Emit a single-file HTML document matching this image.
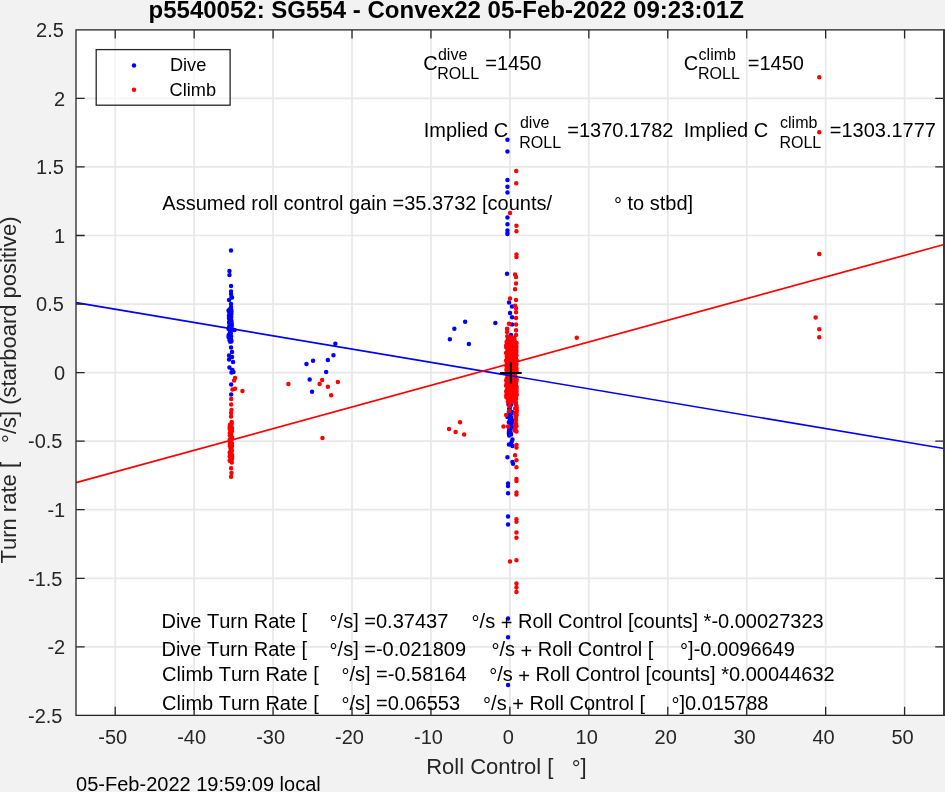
<!DOCTYPE html><html><head><meta charset="utf-8"><style>html,body{margin:0;padding:0;width:945px;height:792px;overflow:hidden;background:#f2f2f2}text{font-kerning:none} svg{will-change:transform}</style></head><body><svg width="945" height="792" viewBox="0 0 945 792" style="position:absolute;left:0;top:0">
<rect x="0" y="0" width="945" height="792" fill="#f2f2f2"/>
<rect x="76.00" y="29.80" width="868.00" height="685.60" fill="#ffffff"/>
<path d="M115.20 29.80V715.40M194.14 29.80V715.40M273.08 29.80V715.40M352.02 29.80V715.40M430.96 29.80V715.40M509.90 29.80V715.40M588.84 29.80V715.40M667.78 29.80V715.40M746.72 29.80V715.40M825.66 29.80V715.40M904.60 29.80V715.40M76.00 715.40H944.00M76.00 646.84H944.00M76.00 578.28H944.00M76.00 509.72H944.00M76.00 441.16H944.00M76.00 372.60H944.00M76.00 304.04H944.00M76.00 235.48H944.00M76.00 166.92H944.00M76.00 98.36H944.00M76.00 29.80H944.00" stroke="#e8e8e8" stroke-width="1.7" fill="none"/>
<path d="M228.8 250.6a2.25 2.25 0 1 0 4.5 0a2.25 2.25 0 1 0 -4.5 0M227.2 271.0a2.25 2.25 0 1 0 4.5 0a2.25 2.25 0 1 0 -4.5 0M227.2 275.0a2.25 2.25 0 1 0 4.5 0a2.25 2.25 0 1 0 -4.5 0M228.8 286.0a2.25 2.25 0 1 0 4.5 0a2.25 2.25 0 1 0 -4.5 0M228.8 291.5a2.25 2.25 0 1 0 4.5 0a2.25 2.25 0 1 0 -4.5 0M228.8 294.0a2.25 2.25 0 1 0 4.5 0a2.25 2.25 0 1 0 -4.5 0M229.2 297.0a2.25 2.25 0 1 0 4.5 0a2.25 2.25 0 1 0 -4.5 0M226.8 300.0a2.25 2.25 0 1 0 4.5 0a2.25 2.25 0 1 0 -4.5 0M229.8 297.5a2.25 2.25 0 1 0 4.5 0a2.25 2.25 0 1 0 -4.5 0M228.8 304.0a2.25 2.25 0 1 0 4.5 0a2.25 2.25 0 1 0 -4.5 0M228.8 307.0a2.25 2.25 0 1 0 4.5 0a2.25 2.25 0 1 0 -4.5 0M232.2 330.0a2.25 2.25 0 1 0 4.5 0a2.25 2.25 0 1 0 -4.5 0M228.8 347.5a2.25 2.25 0 1 0 4.5 0a2.25 2.25 0 1 0 -4.5 0M229.8 352.0a2.25 2.25 0 1 0 4.5 0a2.25 2.25 0 1 0 -4.5 0M226.8 355.5a2.25 2.25 0 1 0 4.5 0a2.25 2.25 0 1 0 -4.5 0M229.8 357.0a2.25 2.25 0 1 0 4.5 0a2.25 2.25 0 1 0 -4.5 0M226.8 359.5a2.25 2.25 0 1 0 4.5 0a2.25 2.25 0 1 0 -4.5 0M230.8 362.0a2.25 2.25 0 1 0 4.5 0a2.25 2.25 0 1 0 -4.5 0M227.2 367.5a2.25 2.25 0 1 0 4.5 0a2.25 2.25 0 1 0 -4.5 0M230.2 370.0a2.25 2.25 0 1 0 4.5 0a2.25 2.25 0 1 0 -4.5 0M229.2 372.5a2.25 2.25 0 1 0 4.5 0a2.25 2.25 0 1 0 -4.5 0M231.2 372.0a2.25 2.25 0 1 0 4.5 0a2.25 2.25 0 1 0 -4.5 0M228.9 384.6a2.25 2.25 0 1 0 4.5 0a2.25 2.25 0 1 0 -4.5 0M228.9 394.4a2.25 2.25 0 1 0 4.5 0a2.25 2.25 0 1 0 -4.5 0M227.0 326.6a2.25 2.25 0 1 0 4.5 0a2.25 2.25 0 1 0 -4.5 0M227.5 328.6a2.25 2.25 0 1 0 4.5 0a2.25 2.25 0 1 0 -4.5 0M228.3 310.7a2.25 2.25 0 1 0 4.5 0a2.25 2.25 0 1 0 -4.5 0M226.3 336.3a2.25 2.25 0 1 0 4.5 0a2.25 2.25 0 1 0 -4.5 0M227.1 316.3a2.25 2.25 0 1 0 4.5 0a2.25 2.25 0 1 0 -4.5 0M229.5 324.1a2.25 2.25 0 1 0 4.5 0a2.25 2.25 0 1 0 -4.5 0M229.0 324.3a2.25 2.25 0 1 0 4.5 0a2.25 2.25 0 1 0 -4.5 0M228.4 313.5a2.25 2.25 0 1 0 4.5 0a2.25 2.25 0 1 0 -4.5 0M228.3 337.3a2.25 2.25 0 1 0 4.5 0a2.25 2.25 0 1 0 -4.5 0M228.0 333.1a2.25 2.25 0 1 0 4.5 0a2.25 2.25 0 1 0 -4.5 0M228.5 310.6a2.25 2.25 0 1 0 4.5 0a2.25 2.25 0 1 0 -4.5 0M228.8 328.1a2.25 2.25 0 1 0 4.5 0a2.25 2.25 0 1 0 -4.5 0M227.2 309.5a2.25 2.25 0 1 0 4.5 0a2.25 2.25 0 1 0 -4.5 0M229.1 324.2a2.25 2.25 0 1 0 4.5 0a2.25 2.25 0 1 0 -4.5 0M228.6 337.7a2.25 2.25 0 1 0 4.5 0a2.25 2.25 0 1 0 -4.5 0M228.6 339.1a2.25 2.25 0 1 0 4.5 0a2.25 2.25 0 1 0 -4.5 0M227.6 335.1a2.25 2.25 0 1 0 4.5 0a2.25 2.25 0 1 0 -4.5 0M227.7 339.6a2.25 2.25 0 1 0 4.5 0a2.25 2.25 0 1 0 -4.5 0M229.2 311.7a2.25 2.25 0 1 0 4.5 0a2.25 2.25 0 1 0 -4.5 0M226.7 315.7a2.25 2.25 0 1 0 4.5 0a2.25 2.25 0 1 0 -4.5 0M229.4 323.0a2.25 2.25 0 1 0 4.5 0a2.25 2.25 0 1 0 -4.5 0M228.3 318.5a2.25 2.25 0 1 0 4.5 0a2.25 2.25 0 1 0 -4.5 0M227.9 321.3a2.25 2.25 0 1 0 4.5 0a2.25 2.25 0 1 0 -4.5 0M227.4 327.9a2.25 2.25 0 1 0 4.5 0a2.25 2.25 0 1 0 -4.5 0M228.2 338.5a2.25 2.25 0 1 0 4.5 0a2.25 2.25 0 1 0 -4.5 0M228.5 339.3a2.25 2.25 0 1 0 4.5 0a2.25 2.25 0 1 0 -4.5 0M229.1 341.4a2.25 2.25 0 1 0 4.5 0a2.25 2.25 0 1 0 -4.5 0M228.5 313.9a2.25 2.25 0 1 0 4.5 0a2.25 2.25 0 1 0 -4.5 0M229.1 340.5a2.25 2.25 0 1 0 4.5 0a2.25 2.25 0 1 0 -4.5 0M229.2 327.4a2.25 2.25 0 1 0 4.5 0a2.25 2.25 0 1 0 -4.5 0M228.6 315.5a2.25 2.25 0 1 0 4.5 0a2.25 2.25 0 1 0 -4.5 0M229.0 327.5a2.25 2.25 0 1 0 4.5 0a2.25 2.25 0 1 0 -4.5 0M227.2 310.6a2.25 2.25 0 1 0 4.5 0a2.25 2.25 0 1 0 -4.5 0M229.1 341.4a2.25 2.25 0 1 0 4.5 0a2.25 2.25 0 1 0 -4.5 0M226.5 335.1a2.25 2.25 0 1 0 4.5 0a2.25 2.25 0 1 0 -4.5 0M227.6 313.5a2.25 2.25 0 1 0 4.5 0a2.25 2.25 0 1 0 -4.5 0M227.2 334.0a2.25 2.25 0 1 0 4.5 0a2.25 2.25 0 1 0 -4.5 0M229.1 310.0a2.25 2.25 0 1 0 4.5 0a2.25 2.25 0 1 0 -4.5 0M228.3 310.0a2.25 2.25 0 1 0 4.5 0a2.25 2.25 0 1 0 -4.5 0M228.6 319.5a2.25 2.25 0 1 0 4.5 0a2.25 2.25 0 1 0 -4.5 0M229.2 341.1a2.25 2.25 0 1 0 4.5 0a2.25 2.25 0 1 0 -4.5 0M227.9 341.7a2.25 2.25 0 1 0 4.5 0a2.25 2.25 0 1 0 -4.5 0M227.3 311.1a2.25 2.25 0 1 0 4.5 0a2.25 2.25 0 1 0 -4.5 0M228.2 309.5a2.25 2.25 0 1 0 4.5 0a2.25 2.25 0 1 0 -4.5 0M226.9 322.0a2.25 2.25 0 1 0 4.5 0a2.25 2.25 0 1 0 -4.5 0M228.3 313.7a2.25 2.25 0 1 0 4.5 0a2.25 2.25 0 1 0 -4.5 0M226.4 337.3a2.25 2.25 0 1 0 4.5 0a2.25 2.25 0 1 0 -4.5 0M227.3 340.3a2.25 2.25 0 1 0 4.5 0a2.25 2.25 0 1 0 -4.5 0M229.2 321.0a2.25 2.25 0 1 0 4.5 0a2.25 2.25 0 1 0 -4.5 0M227.8 325.8a2.25 2.25 0 1 0 4.5 0a2.25 2.25 0 1 0 -4.5 0M228.4 328.3a2.25 2.25 0 1 0 4.5 0a2.25 2.25 0 1 0 -4.5 0M228.1 329.1a2.25 2.25 0 1 0 4.5 0a2.25 2.25 0 1 0 -4.5 0M229.4 325.3a2.25 2.25 0 1 0 4.5 0a2.25 2.25 0 1 0 -4.5 0M227.7 332.4a2.25 2.25 0 1 0 4.5 0a2.25 2.25 0 1 0 -4.5 0M227.0 318.5a2.25 2.25 0 1 0 4.5 0a2.25 2.25 0 1 0 -4.5 0M229.5 325.8a2.25 2.25 0 1 0 4.5 0a2.25 2.25 0 1 0 -4.5 0M228.1 308.9a2.25 2.25 0 1 0 4.5 0a2.25 2.25 0 1 0 -4.5 0M227.6 327.8a2.25 2.25 0 1 0 4.5 0a2.25 2.25 0 1 0 -4.5 0M226.3 328.9a2.25 2.25 0 1 0 4.5 0a2.25 2.25 0 1 0 -4.5 0M228.3 310.5a2.25 2.25 0 1 0 4.5 0a2.25 2.25 0 1 0 -4.5 0M228.3 324.0a2.25 2.25 0 1 0 4.5 0a2.25 2.25 0 1 0 -4.5 0M228.5 320.2a2.25 2.25 0 1 0 4.5 0a2.25 2.25 0 1 0 -4.5 0M228.6 333.0a2.25 2.25 0 1 0 4.5 0a2.25 2.25 0 1 0 -4.5 0M226.3 310.5a2.25 2.25 0 1 0 4.5 0a2.25 2.25 0 1 0 -4.5 0M228.5 340.5a2.25 2.25 0 1 0 4.5 0a2.25 2.25 0 1 0 -4.5 0M227.1 323.6a2.25 2.25 0 1 0 4.5 0a2.25 2.25 0 1 0 -4.5 0M228.2 319.1a2.25 2.25 0 1 0 4.5 0a2.25 2.25 0 1 0 -4.5 0M227.5 318.9a2.25 2.25 0 1 0 4.5 0a2.25 2.25 0 1 0 -4.5 0M227.5 328.3a2.25 2.25 0 1 0 4.5 0a2.25 2.25 0 1 0 -4.5 0M227.2 321.0a2.25 2.25 0 1 0 4.5 0a2.25 2.25 0 1 0 -4.5 0M228.8 309.4a2.25 2.25 0 1 0 4.5 0a2.25 2.25 0 1 0 -4.5 0M228.1 332.9a2.25 2.25 0 1 0 4.5 0a2.25 2.25 0 1 0 -4.5 0M227.3 315.9a2.25 2.25 0 1 0 4.5 0a2.25 2.25 0 1 0 -4.5 0M228.9 316.4a2.25 2.25 0 1 0 4.5 0a2.25 2.25 0 1 0 -4.5 0M226.9 322.9a2.25 2.25 0 1 0 4.5 0a2.25 2.25 0 1 0 -4.5 0M228.6 311.9a2.25 2.25 0 1 0 4.5 0a2.25 2.25 0 1 0 -4.5 0M227.3 319.6a2.25 2.25 0 1 0 4.5 0a2.25 2.25 0 1 0 -4.5 0M229.0 323.1a2.25 2.25 0 1 0 4.5 0a2.25 2.25 0 1 0 -4.5 0M229.1 314.1a2.25 2.25 0 1 0 4.5 0a2.25 2.25 0 1 0 -4.5 0M227.4 330.1a2.25 2.25 0 1 0 4.5 0a2.25 2.25 0 1 0 -4.5 0M229.2 323.5a2.25 2.25 0 1 0 4.5 0a2.25 2.25 0 1 0 -4.5 0M227.0 312.5a2.25 2.25 0 1 0 4.5 0a2.25 2.25 0 1 0 -4.5 0M228.0 314.8a2.25 2.25 0 1 0 4.5 0a2.25 2.25 0 1 0 -4.5 0M228.9 336.3a2.25 2.25 0 1 0 4.5 0a2.25 2.25 0 1 0 -4.5 0M226.9 317.7a2.25 2.25 0 1 0 4.5 0a2.25 2.25 0 1 0 -4.5 0M228.9 329.8a2.25 2.25 0 1 0 4.5 0a2.25 2.25 0 1 0 -4.5 0M228.9 320.0a2.25 2.25 0 1 0 4.5 0a2.25 2.25 0 1 0 -4.5 0M226.7 318.2a2.25 2.25 0 1 0 4.5 0a2.25 2.25 0 1 0 -4.5 0M228.9 317.5a2.25 2.25 0 1 0 4.5 0a2.25 2.25 0 1 0 -4.5 0M227.4 322.3a2.25 2.25 0 1 0 4.5 0a2.25 2.25 0 1 0 -4.5 0M333.1 343.8a2.25 2.25 0 1 0 4.5 0a2.25 2.25 0 1 0 -4.5 0M331.2 355.3a2.25 2.25 0 1 0 4.5 0a2.25 2.25 0 1 0 -4.5 0M310.8 360.7a2.25 2.25 0 1 0 4.5 0a2.25 2.25 0 1 0 -4.5 0M304.2 364.0a2.25 2.25 0 1 0 4.5 0a2.25 2.25 0 1 0 -4.5 0M325.6 359.9a2.25 2.25 0 1 0 4.5 0a2.25 2.25 0 1 0 -4.5 0M323.9 371.9a2.25 2.25 0 1 0 4.5 0a2.25 2.25 0 1 0 -4.5 0M307.4 379.4a2.25 2.25 0 1 0 4.5 0a2.25 2.25 0 1 0 -4.5 0M309.8 391.8a2.25 2.25 0 1 0 4.5 0a2.25 2.25 0 1 0 -4.5 0M462.9 321.8a2.25 2.25 0 1 0 4.5 0a2.25 2.25 0 1 0 -4.5 0M452.1 328.8a2.25 2.25 0 1 0 4.5 0a2.25 2.25 0 1 0 -4.5 0M447.6 339.2a2.25 2.25 0 1 0 4.5 0a2.25 2.25 0 1 0 -4.5 0M466.6 344.0a2.25 2.25 0 1 0 4.5 0a2.25 2.25 0 1 0 -4.5 0M493.1 323.1a2.25 2.25 0 1 0 4.5 0a2.25 2.25 0 1 0 -4.5 0M505.2 139.7a2.25 2.25 0 1 0 4.5 0a2.25 2.25 0 1 0 -4.5 0M505.2 151.5a2.25 2.25 0 1 0 4.5 0a2.25 2.25 0 1 0 -4.5 0M505.2 180.1a2.25 2.25 0 1 0 4.5 0a2.25 2.25 0 1 0 -4.5 0M505.2 186.8a2.25 2.25 0 1 0 4.5 0a2.25 2.25 0 1 0 -4.5 0M505.2 192.6a2.25 2.25 0 1 0 4.5 0a2.25 2.25 0 1 0 -4.5 0M505.2 217.5a2.25 2.25 0 1 0 4.5 0a2.25 2.25 0 1 0 -4.5 0M505.2 224.2a2.25 2.25 0 1 0 4.5 0a2.25 2.25 0 1 0 -4.5 0M505.2 230.4a2.25 2.25 0 1 0 4.5 0a2.25 2.25 0 1 0 -4.5 0M505.2 233.1a2.25 2.25 0 1 0 4.5 0a2.25 2.25 0 1 0 -4.5 0M505.2 234.0a2.25 2.25 0 1 0 4.5 0a2.25 2.25 0 1 0 -4.5 0M504.8 273.8a2.25 2.25 0 1 0 4.5 0a2.25 2.25 0 1 0 -4.5 0M506.8 302.5a2.25 2.25 0 1 0 4.5 0a2.25 2.25 0 1 0 -4.5 0M509.8 306.6a2.25 2.25 0 1 0 4.5 0a2.25 2.25 0 1 0 -4.5 0M507.8 313.1a2.25 2.25 0 1 0 4.5 0a2.25 2.25 0 1 0 -4.5 0M509.8 317.2a2.25 2.25 0 1 0 4.5 0a2.25 2.25 0 1 0 -4.5 0M509.8 324.6a2.25 2.25 0 1 0 4.5 0a2.25 2.25 0 1 0 -4.5 0M508.8 335.0a2.25 2.25 0 1 0 4.5 0a2.25 2.25 0 1 0 -4.5 0M506.2 404.5a2.25 2.25 0 1 0 4.5 0a2.25 2.25 0 1 0 -4.5 0M507.8 407.0a2.25 2.25 0 1 0 4.5 0a2.25 2.25 0 1 0 -4.5 0M506.8 411.0a2.25 2.25 0 1 0 4.5 0a2.25 2.25 0 1 0 -4.5 0M509.8 412.0a2.25 2.25 0 1 0 4.5 0a2.25 2.25 0 1 0 -4.5 0M508.2 416.0a2.25 2.25 0 1 0 4.5 0a2.25 2.25 0 1 0 -4.5 0M505.2 417.0a2.25 2.25 0 1 0 4.5 0a2.25 2.25 0 1 0 -4.5 0M507.8 421.0a2.25 2.25 0 1 0 4.5 0a2.25 2.25 0 1 0 -4.5 0M508.2 425.0a2.25 2.25 0 1 0 4.5 0a2.25 2.25 0 1 0 -4.5 0M509.8 427.5a2.25 2.25 0 1 0 4.5 0a2.25 2.25 0 1 0 -4.5 0M508.2 431.0a2.25 2.25 0 1 0 4.5 0a2.25 2.25 0 1 0 -4.5 0M508.8 434.0a2.25 2.25 0 1 0 4.5 0a2.25 2.25 0 1 0 -4.5 0M510.2 439.5a2.25 2.25 0 1 0 4.5 0a2.25 2.25 0 1 0 -4.5 0M508.8 443.5a2.25 2.25 0 1 0 4.5 0a2.25 2.25 0 1 0 -4.5 0M510.2 446.0a2.25 2.25 0 1 0 4.5 0a2.25 2.25 0 1 0 -4.5 0M505.2 457.2a2.25 2.25 0 1 0 4.5 0a2.25 2.25 0 1 0 -4.5 0M510.2 462.1a2.25 2.25 0 1 0 4.5 0a2.25 2.25 0 1 0 -4.5 0M510.8 463.8a2.25 2.25 0 1 0 4.5 0a2.25 2.25 0 1 0 -4.5 0M505.8 483.6a2.25 2.25 0 1 0 4.5 0a2.25 2.25 0 1 0 -4.5 0M505.8 486.0a2.25 2.25 0 1 0 4.5 0a2.25 2.25 0 1 0 -4.5 0M505.8 493.2a2.25 2.25 0 1 0 4.5 0a2.25 2.25 0 1 0 -4.5 0M505.8 516.5a2.25 2.25 0 1 0 4.5 0a2.25 2.25 0 1 0 -4.5 0M505.8 524.5a2.25 2.25 0 1 0 4.5 0a2.25 2.25 0 1 0 -4.5 0M505.8 618.6a2.25 2.25 0 1 0 4.5 0a2.25 2.25 0 1 0 -4.5 0M505.8 637.2a2.25 2.25 0 1 0 4.5 0a2.25 2.25 0 1 0 -4.5 0M505.8 685.0a2.25 2.25 0 1 0 4.5 0a2.25 2.25 0 1 0 -4.5 0M506.6 422.3a2.25 2.25 0 1 0 4.5 0a2.25 2.25 0 1 0 -4.5 0M506.6 432.9a2.25 2.25 0 1 0 4.5 0a2.25 2.25 0 1 0 -4.5 0M509.5 441.8a2.25 2.25 0 1 0 4.5 0a2.25 2.25 0 1 0 -4.5 0M506.7 431.4a2.25 2.25 0 1 0 4.5 0a2.25 2.25 0 1 0 -4.5 0M507.6 422.3a2.25 2.25 0 1 0 4.5 0a2.25 2.25 0 1 0 -4.5 0M507.6 414.7a2.25 2.25 0 1 0 4.5 0a2.25 2.25 0 1 0 -4.5 0M507.0 429.2a2.25 2.25 0 1 0 4.5 0a2.25 2.25 0 1 0 -4.5 0M506.9 444.4a2.25 2.25 0 1 0 4.5 0a2.25 2.25 0 1 0 -4.5 0M506.7 444.4a2.25 2.25 0 1 0 4.5 0a2.25 2.25 0 1 0 -4.5 0M507.2 404.8a2.25 2.25 0 1 0 4.5 0a2.25 2.25 0 1 0 -4.5 0M509.1 424.9a2.25 2.25 0 1 0 4.5 0a2.25 2.25 0 1 0 -4.5 0M509.2 423.9a2.25 2.25 0 1 0 4.5 0a2.25 2.25 0 1 0 -4.5 0M508.7 404.7a2.25 2.25 0 1 0 4.5 0a2.25 2.25 0 1 0 -4.5 0M508.8 424.1a2.25 2.25 0 1 0 4.5 0a2.25 2.25 0 1 0 -4.5 0M509.8 401.3a2.25 2.25 0 1 0 4.5 0a2.25 2.25 0 1 0 -4.5 0M506.8 431.4a2.25 2.25 0 1 0 4.5 0a2.25 2.25 0 1 0 -4.5 0M509.7 420.0a2.25 2.25 0 1 0 4.5 0a2.25 2.25 0 1 0 -4.5 0M509.0 426.2a2.25 2.25 0 1 0 4.5 0a2.25 2.25 0 1 0 -4.5 0M507.9 421.9a2.25 2.25 0 1 0 4.5 0a2.25 2.25 0 1 0 -4.5 0M508.6 402.3a2.25 2.25 0 1 0 4.5 0a2.25 2.25 0 1 0 -4.5 0M507.6 434.2a2.25 2.25 0 1 0 4.5 0a2.25 2.25 0 1 0 -4.5 0M507.4 422.3a2.25 2.25 0 1 0 4.5 0a2.25 2.25 0 1 0 -4.5 0M507.4 417.1a2.25 2.25 0 1 0 4.5 0a2.25 2.25 0 1 0 -4.5 0M508.8 434.5a2.25 2.25 0 1 0 4.5 0a2.25 2.25 0 1 0 -4.5 0M509.8 422.5a2.25 2.25 0 1 0 4.5 0a2.25 2.25 0 1 0 -4.5 0M507.2 416.2a2.25 2.25 0 1 0 4.5 0a2.25 2.25 0 1 0 -4.5 0M506.7 411.8a2.25 2.25 0 1 0 4.5 0a2.25 2.25 0 1 0 -4.5 0M508.5 428.5a2.25 2.25 0 1 0 4.5 0a2.25 2.25 0 1 0 -4.5 0M507.4 409.2a2.25 2.25 0 1 0 4.5 0a2.25 2.25 0 1 0 -4.5 0M506.9 409.0a2.25 2.25 0 1 0 4.5 0a2.25 2.25 0 1 0 -4.5 0M508.3 412.5a2.25 2.25 0 1 0 4.5 0a2.25 2.25 0 1 0 -4.5 0M509.6 426.4a2.25 2.25 0 1 0 4.5 0a2.25 2.25 0 1 0 -4.5 0M507.7 420.4a2.25 2.25 0 1 0 4.5 0a2.25 2.25 0 1 0 -4.5 0M506.7 434.0a2.25 2.25 0 1 0 4.5 0a2.25 2.25 0 1 0 -4.5 0M509.1 417.4a2.25 2.25 0 1 0 4.5 0a2.25 2.25 0 1 0 -4.5 0M509.0 413.3a2.25 2.25 0 1 0 4.5 0a2.25 2.25 0 1 0 -4.5 0M507.3 411.3a2.25 2.25 0 1 0 4.5 0a2.25 2.25 0 1 0 -4.5 0M507.2 428.3a2.25 2.25 0 1 0 4.5 0a2.25 2.25 0 1 0 -4.5 0M508.7 433.7a2.25 2.25 0 1 0 4.5 0a2.25 2.25 0 1 0 -4.5 0M506.9 435.5a2.25 2.25 0 1 0 4.5 0a2.25 2.25 0 1 0 -4.5 0" fill="#0000ff"/>
<path d="M232.8 378.0a2.25 2.25 0 1 0 4.5 0a2.25 2.25 0 1 0 -4.5 0M231.8 380.5a2.25 2.25 0 1 0 4.5 0a2.25 2.25 0 1 0 -4.5 0M232.8 388.7a2.25 2.25 0 1 0 4.5 0a2.25 2.25 0 1 0 -4.5 0M230.2 389.5a2.25 2.25 0 1 0 4.5 0a2.25 2.25 0 1 0 -4.5 0M240.2 391.1a2.25 2.25 0 1 0 4.5 0a2.25 2.25 0 1 0 -4.5 0M228.9 398.9a2.25 2.25 0 1 0 4.5 0a2.25 2.25 0 1 0 -4.5 0M228.9 404.5a2.25 2.25 0 1 0 4.5 0a2.25 2.25 0 1 0 -4.5 0M229.2 410.0a2.25 2.25 0 1 0 4.5 0a2.25 2.25 0 1 0 -4.5 0M228.8 413.0a2.25 2.25 0 1 0 4.5 0a2.25 2.25 0 1 0 -4.5 0M228.8 416.5a2.25 2.25 0 1 0 4.5 0a2.25 2.25 0 1 0 -4.5 0M228.8 468.2a2.25 2.25 0 1 0 4.5 0a2.25 2.25 0 1 0 -4.5 0M229.2 473.1a2.25 2.25 0 1 0 4.5 0a2.25 2.25 0 1 0 -4.5 0M228.8 476.7a2.25 2.25 0 1 0 4.5 0a2.25 2.25 0 1 0 -4.5 0M228.4 438.8a2.25 2.25 0 1 0 4.5 0a2.25 2.25 0 1 0 -4.5 0M229.7 428.4a2.25 2.25 0 1 0 4.5 0a2.25 2.25 0 1 0 -4.5 0M227.4 460.7a2.25 2.25 0 1 0 4.5 0a2.25 2.25 0 1 0 -4.5 0M229.6 462.5a2.25 2.25 0 1 0 4.5 0a2.25 2.25 0 1 0 -4.5 0M228.5 461.0a2.25 2.25 0 1 0 4.5 0a2.25 2.25 0 1 0 -4.5 0M229.8 431.1a2.25 2.25 0 1 0 4.5 0a2.25 2.25 0 1 0 -4.5 0M229.3 456.3a2.25 2.25 0 1 0 4.5 0a2.25 2.25 0 1 0 -4.5 0M229.1 443.3a2.25 2.25 0 1 0 4.5 0a2.25 2.25 0 1 0 -4.5 0M228.1 436.0a2.25 2.25 0 1 0 4.5 0a2.25 2.25 0 1 0 -4.5 0M227.9 424.8a2.25 2.25 0 1 0 4.5 0a2.25 2.25 0 1 0 -4.5 0M228.9 433.8a2.25 2.25 0 1 0 4.5 0a2.25 2.25 0 1 0 -4.5 0M229.5 423.8a2.25 2.25 0 1 0 4.5 0a2.25 2.25 0 1 0 -4.5 0M229.7 450.4a2.25 2.25 0 1 0 4.5 0a2.25 2.25 0 1 0 -4.5 0M229.8 458.8a2.25 2.25 0 1 0 4.5 0a2.25 2.25 0 1 0 -4.5 0M229.7 445.7a2.25 2.25 0 1 0 4.5 0a2.25 2.25 0 1 0 -4.5 0M227.4 452.6a2.25 2.25 0 1 0 4.5 0a2.25 2.25 0 1 0 -4.5 0M227.8 434.3a2.25 2.25 0 1 0 4.5 0a2.25 2.25 0 1 0 -4.5 0M229.1 443.5a2.25 2.25 0 1 0 4.5 0a2.25 2.25 0 1 0 -4.5 0M228.4 460.5a2.25 2.25 0 1 0 4.5 0a2.25 2.25 0 1 0 -4.5 0M228.9 436.0a2.25 2.25 0 1 0 4.5 0a2.25 2.25 0 1 0 -4.5 0M228.0 457.3a2.25 2.25 0 1 0 4.5 0a2.25 2.25 0 1 0 -4.5 0M228.6 454.1a2.25 2.25 0 1 0 4.5 0a2.25 2.25 0 1 0 -4.5 0M228.3 430.1a2.25 2.25 0 1 0 4.5 0a2.25 2.25 0 1 0 -4.5 0M228.7 455.5a2.25 2.25 0 1 0 4.5 0a2.25 2.25 0 1 0 -4.5 0M227.8 454.5a2.25 2.25 0 1 0 4.5 0a2.25 2.25 0 1 0 -4.5 0M229.7 455.0a2.25 2.25 0 1 0 4.5 0a2.25 2.25 0 1 0 -4.5 0M229.5 422.3a2.25 2.25 0 1 0 4.5 0a2.25 2.25 0 1 0 -4.5 0M229.0 457.4a2.25 2.25 0 1 0 4.5 0a2.25 2.25 0 1 0 -4.5 0M227.5 433.1a2.25 2.25 0 1 0 4.5 0a2.25 2.25 0 1 0 -4.5 0M228.0 443.6a2.25 2.25 0 1 0 4.5 0a2.25 2.25 0 1 0 -4.5 0M228.4 441.4a2.25 2.25 0 1 0 4.5 0a2.25 2.25 0 1 0 -4.5 0M229.4 422.1a2.25 2.25 0 1 0 4.5 0a2.25 2.25 0 1 0 -4.5 0M227.5 427.2a2.25 2.25 0 1 0 4.5 0a2.25 2.25 0 1 0 -4.5 0M227.7 424.8a2.25 2.25 0 1 0 4.5 0a2.25 2.25 0 1 0 -4.5 0M229.9 457.0a2.25 2.25 0 1 0 4.5 0a2.25 2.25 0 1 0 -4.5 0M227.6 442.6a2.25 2.25 0 1 0 4.5 0a2.25 2.25 0 1 0 -4.5 0M228.2 434.9a2.25 2.25 0 1 0 4.5 0a2.25 2.25 0 1 0 -4.5 0M228.3 448.5a2.25 2.25 0 1 0 4.5 0a2.25 2.25 0 1 0 -4.5 0M228.9 436.8a2.25 2.25 0 1 0 4.5 0a2.25 2.25 0 1 0 -4.5 0M227.8 435.5a2.25 2.25 0 1 0 4.5 0a2.25 2.25 0 1 0 -4.5 0M227.7 444.8a2.25 2.25 0 1 0 4.5 0a2.25 2.25 0 1 0 -4.5 0M229.2 437.6a2.25 2.25 0 1 0 4.5 0a2.25 2.25 0 1 0 -4.5 0M227.6 429.3a2.25 2.25 0 1 0 4.5 0a2.25 2.25 0 1 0 -4.5 0M228.3 446.8a2.25 2.25 0 1 0 4.5 0a2.25 2.25 0 1 0 -4.5 0M229.4 437.6a2.25 2.25 0 1 0 4.5 0a2.25 2.25 0 1 0 -4.5 0M229.4 447.5a2.25 2.25 0 1 0 4.5 0a2.25 2.25 0 1 0 -4.5 0M228.5 437.3a2.25 2.25 0 1 0 4.5 0a2.25 2.25 0 1 0 -4.5 0M228.6 450.8a2.25 2.25 0 1 0 4.5 0a2.25 2.25 0 1 0 -4.5 0M228.4 450.5a2.25 2.25 0 1 0 4.5 0a2.25 2.25 0 1 0 -4.5 0M228.5 432.0a2.25 2.25 0 1 0 4.5 0a2.25 2.25 0 1 0 -4.5 0M228.7 450.5a2.25 2.25 0 1 0 4.5 0a2.25 2.25 0 1 0 -4.5 0M227.5 439.4a2.25 2.25 0 1 0 4.5 0a2.25 2.25 0 1 0 -4.5 0M228.5 458.1a2.25 2.25 0 1 0 4.5 0a2.25 2.25 0 1 0 -4.5 0M229.8 437.3a2.25 2.25 0 1 0 4.5 0a2.25 2.25 0 1 0 -4.5 0M229.7 454.4a2.25 2.25 0 1 0 4.5 0a2.25 2.25 0 1 0 -4.5 0M228.0 441.0a2.25 2.25 0 1 0 4.5 0a2.25 2.25 0 1 0 -4.5 0M227.7 455.3a2.25 2.25 0 1 0 4.5 0a2.25 2.25 0 1 0 -4.5 0M229.1 458.4a2.25 2.25 0 1 0 4.5 0a2.25 2.25 0 1 0 -4.5 0M229.4 449.4a2.25 2.25 0 1 0 4.5 0a2.25 2.25 0 1 0 -4.5 0M229.3 445.1a2.25 2.25 0 1 0 4.5 0a2.25 2.25 0 1 0 -4.5 0M227.6 446.1a2.25 2.25 0 1 0 4.5 0a2.25 2.25 0 1 0 -4.5 0M227.4 427.9a2.25 2.25 0 1 0 4.5 0a2.25 2.25 0 1 0 -4.5 0M229.4 423.8a2.25 2.25 0 1 0 4.5 0a2.25 2.25 0 1 0 -4.5 0M227.6 426.1a2.25 2.25 0 1 0 4.5 0a2.25 2.25 0 1 0 -4.5 0M229.6 429.3a2.25 2.25 0 1 0 4.5 0a2.25 2.25 0 1 0 -4.5 0M227.4 456.5a2.25 2.25 0 1 0 4.5 0a2.25 2.25 0 1 0 -4.5 0M227.7 456.6a2.25 2.25 0 1 0 4.5 0a2.25 2.25 0 1 0 -4.5 0M229.1 456.3a2.25 2.25 0 1 0 4.5 0a2.25 2.25 0 1 0 -4.5 0M229.8 445.7a2.25 2.25 0 1 0 4.5 0a2.25 2.25 0 1 0 -4.5 0M229.4 423.5a2.25 2.25 0 1 0 4.5 0a2.25 2.25 0 1 0 -4.5 0M229.3 443.0a2.25 2.25 0 1 0 4.5 0a2.25 2.25 0 1 0 -4.5 0M229.2 426.4a2.25 2.25 0 1 0 4.5 0a2.25 2.25 0 1 0 -4.5 0M229.3 460.3a2.25 2.25 0 1 0 4.5 0a2.25 2.25 0 1 0 -4.5 0M227.5 435.3a2.25 2.25 0 1 0 4.5 0a2.25 2.25 0 1 0 -4.5 0M228.8 456.0a2.25 2.25 0 1 0 4.5 0a2.25 2.25 0 1 0 -4.5 0M228.0 429.4a2.25 2.25 0 1 0 4.5 0a2.25 2.25 0 1 0 -4.5 0M228.0 447.3a2.25 2.25 0 1 0 4.5 0a2.25 2.25 0 1 0 -4.5 0M229.3 438.1a2.25 2.25 0 1 0 4.5 0a2.25 2.25 0 1 0 -4.5 0M228.3 438.3a2.25 2.25 0 1 0 4.5 0a2.25 2.25 0 1 0 -4.5 0M228.3 439.1a2.25 2.25 0 1 0 4.5 0a2.25 2.25 0 1 0 -4.5 0M227.6 442.5a2.25 2.25 0 1 0 4.5 0a2.25 2.25 0 1 0 -4.5 0M229.9 438.9a2.25 2.25 0 1 0 4.5 0a2.25 2.25 0 1 0 -4.5 0M229.3 428.6a2.25 2.25 0 1 0 4.5 0a2.25 2.25 0 1 0 -4.5 0M229.1 453.0a2.25 2.25 0 1 0 4.5 0a2.25 2.25 0 1 0 -4.5 0M229.1 443.2a2.25 2.25 0 1 0 4.5 0a2.25 2.25 0 1 0 -4.5 0M228.6 448.4a2.25 2.25 0 1 0 4.5 0a2.25 2.25 0 1 0 -4.5 0M229.7 428.1a2.25 2.25 0 1 0 4.5 0a2.25 2.25 0 1 0 -4.5 0M227.6 452.7a2.25 2.25 0 1 0 4.5 0a2.25 2.25 0 1 0 -4.5 0M229.7 443.2a2.25 2.25 0 1 0 4.5 0a2.25 2.25 0 1 0 -4.5 0M228.5 451.5a2.25 2.25 0 1 0 4.5 0a2.25 2.25 0 1 0 -4.5 0M286.1 384.0a2.25 2.25 0 1 0 4.5 0a2.25 2.25 0 1 0 -4.5 0M319.9 379.9a2.25 2.25 0 1 0 4.5 0a2.25 2.25 0 1 0 -4.5 0M317.4 384.0a2.25 2.25 0 1 0 4.5 0a2.25 2.25 0 1 0 -4.5 0M325.6 386.8a2.25 2.25 0 1 0 4.5 0a2.25 2.25 0 1 0 -4.5 0M335.6 382.1a2.25 2.25 0 1 0 4.5 0a2.25 2.25 0 1 0 -4.5 0M328.9 395.2a2.25 2.25 0 1 0 4.5 0a2.25 2.25 0 1 0 -4.5 0M320.2 437.9a2.25 2.25 0 1 0 4.5 0a2.25 2.25 0 1 0 -4.5 0M457.8 422.3a2.25 2.25 0 1 0 4.5 0a2.25 2.25 0 1 0 -4.5 0M446.8 428.9a2.25 2.25 0 1 0 4.5 0a2.25 2.25 0 1 0 -4.5 0M453.4 432.1a2.25 2.25 0 1 0 4.5 0a2.25 2.25 0 1 0 -4.5 0M461.9 434.6a2.25 2.25 0 1 0 4.5 0a2.25 2.25 0 1 0 -4.5 0M514.0 170.9a2.25 2.25 0 1 0 4.5 0a2.25 2.25 0 1 0 -4.5 0M514.0 183.3a2.25 2.25 0 1 0 4.5 0a2.25 2.25 0 1 0 -4.5 0M507.8 213.1a2.25 2.25 0 1 0 4.5 0a2.25 2.25 0 1 0 -4.5 0M514.2 225.7a2.25 2.25 0 1 0 4.5 0a2.25 2.25 0 1 0 -4.5 0M514.2 231.3a2.25 2.25 0 1 0 4.5 0a2.25 2.25 0 1 0 -4.5 0M514.2 254.6a2.25 2.25 0 1 0 4.5 0a2.25 2.25 0 1 0 -4.5 0M514.2 257.0a2.25 2.25 0 1 0 4.5 0a2.25 2.25 0 1 0 -4.5 0M512.8 274.6a2.25 2.25 0 1 0 4.5 0a2.25 2.25 0 1 0 -4.5 0M513.8 277.0a2.25 2.25 0 1 0 4.5 0a2.25 2.25 0 1 0 -4.5 0M513.8 283.6a2.25 2.25 0 1 0 4.5 0a2.25 2.25 0 1 0 -4.5 0M512.8 289.3a2.25 2.25 0 1 0 4.5 0a2.25 2.25 0 1 0 -4.5 0M507.8 298.4a2.25 2.25 0 1 0 4.5 0a2.25 2.25 0 1 0 -4.5 0M513.8 300.0a2.25 2.25 0 1 0 4.5 0a2.25 2.25 0 1 0 -4.5 0M512.8 305.7a2.25 2.25 0 1 0 4.5 0a2.25 2.25 0 1 0 -4.5 0M513.8 308.2a2.25 2.25 0 1 0 4.5 0a2.25 2.25 0 1 0 -4.5 0M513.8 312.3a2.25 2.25 0 1 0 4.5 0a2.25 2.25 0 1 0 -4.5 0M513.8 318.0a2.25 2.25 0 1 0 4.5 0a2.25 2.25 0 1 0 -4.5 0M513.8 324.6a2.25 2.25 0 1 0 4.5 0a2.25 2.25 0 1 0 -4.5 0M506.8 323.8a2.25 2.25 0 1 0 4.5 0a2.25 2.25 0 1 0 -4.5 0M504.8 328.7a2.25 2.25 0 1 0 4.5 0a2.25 2.25 0 1 0 -4.5 0M513.8 330.3a2.25 2.25 0 1 0 4.5 0a2.25 2.25 0 1 0 -4.5 0M504.8 332.0a2.25 2.25 0 1 0 4.5 0a2.25 2.25 0 1 0 -4.5 0M513.8 335.0a2.25 2.25 0 1 0 4.5 0a2.25 2.25 0 1 0 -4.5 0M513.8 402.5a2.25 2.25 0 1 0 4.5 0a2.25 2.25 0 1 0 -4.5 0M513.2 404.0a2.25 2.25 0 1 0 4.5 0a2.25 2.25 0 1 0 -4.5 0M507.2 406.0a2.25 2.25 0 1 0 4.5 0a2.25 2.25 0 1 0 -4.5 0M513.8 409.0a2.25 2.25 0 1 0 4.5 0a2.25 2.25 0 1 0 -4.5 0M506.8 411.0a2.25 2.25 0 1 0 4.5 0a2.25 2.25 0 1 0 -4.5 0M513.8 412.5a2.25 2.25 0 1 0 4.5 0a2.25 2.25 0 1 0 -4.5 0M513.8 414.0a2.25 2.25 0 1 0 4.5 0a2.25 2.25 0 1 0 -4.5 0M503.9 415.0a2.25 2.25 0 1 0 4.5 0a2.25 2.25 0 1 0 -4.5 0M513.8 417.0a2.25 2.25 0 1 0 4.5 0a2.25 2.25 0 1 0 -4.5 0M513.8 420.0a2.25 2.25 0 1 0 4.5 0a2.25 2.25 0 1 0 -4.5 0M513.2 423.5a2.25 2.25 0 1 0 4.5 0a2.25 2.25 0 1 0 -4.5 0M501.2 426.5a2.25 2.25 0 1 0 4.5 0a2.25 2.25 0 1 0 -4.5 0M505.8 426.5a2.25 2.25 0 1 0 4.5 0a2.25 2.25 0 1 0 -4.5 0M514.2 431.5a2.25 2.25 0 1 0 4.5 0a2.25 2.25 0 1 0 -4.5 0M514.2 445.0a2.25 2.25 0 1 0 4.5 0a2.25 2.25 0 1 0 -4.5 0M514.2 447.5a2.25 2.25 0 1 0 4.5 0a2.25 2.25 0 1 0 -4.5 0M512.8 455.2a2.25 2.25 0 1 0 4.5 0a2.25 2.25 0 1 0 -4.5 0M514.2 460.2a2.25 2.25 0 1 0 4.5 0a2.25 2.25 0 1 0 -4.5 0M514.2 467.2a2.25 2.25 0 1 0 4.5 0a2.25 2.25 0 1 0 -4.5 0M514.2 479.0a2.25 2.25 0 1 0 4.5 0a2.25 2.25 0 1 0 -4.5 0M514.2 481.0a2.25 2.25 0 1 0 4.5 0a2.25 2.25 0 1 0 -4.5 0M514.2 492.6a2.25 2.25 0 1 0 4.5 0a2.25 2.25 0 1 0 -4.5 0M514.2 494.6a2.25 2.25 0 1 0 4.5 0a2.25 2.25 0 1 0 -4.5 0M514.2 519.2a2.25 2.25 0 1 0 4.5 0a2.25 2.25 0 1 0 -4.5 0M514.2 521.8a2.25 2.25 0 1 0 4.5 0a2.25 2.25 0 1 0 -4.5 0M514.2 532.4a2.25 2.25 0 1 0 4.5 0a2.25 2.25 0 1 0 -4.5 0M514.2 537.7a2.25 2.25 0 1 0 4.5 0a2.25 2.25 0 1 0 -4.5 0M507.8 561.6a2.25 2.25 0 1 0 4.5 0a2.25 2.25 0 1 0 -4.5 0M514.2 560.3a2.25 2.25 0 1 0 4.5 0a2.25 2.25 0 1 0 -4.5 0M514.2 583.4a2.25 2.25 0 1 0 4.5 0a2.25 2.25 0 1 0 -4.5 0M514.2 587.6a2.25 2.25 0 1 0 4.5 0a2.25 2.25 0 1 0 -4.5 0M514.2 592.1a2.25 2.25 0 1 0 4.5 0a2.25 2.25 0 1 0 -4.5 0M505.8 356.5a2.25 2.25 0 1 0 4.5 0a2.25 2.25 0 1 0 -4.5 0M505.9 375.0a2.25 2.25 0 1 0 4.5 0a2.25 2.25 0 1 0 -4.5 0M507.2 354.5a2.25 2.25 0 1 0 4.5 0a2.25 2.25 0 1 0 -4.5 0M511.2 396.3a2.25 2.25 0 1 0 4.5 0a2.25 2.25 0 1 0 -4.5 0M506.9 381.9a2.25 2.25 0 1 0 4.5 0a2.25 2.25 0 1 0 -4.5 0M508.2 390.5a2.25 2.25 0 1 0 4.5 0a2.25 2.25 0 1 0 -4.5 0M510.1 356.5a2.25 2.25 0 1 0 4.5 0a2.25 2.25 0 1 0 -4.5 0M506.1 342.3a2.25 2.25 0 1 0 4.5 0a2.25 2.25 0 1 0 -4.5 0M508.9 363.2a2.25 2.25 0 1 0 4.5 0a2.25 2.25 0 1 0 -4.5 0M505.6 361.9a2.25 2.25 0 1 0 4.5 0a2.25 2.25 0 1 0 -4.5 0M507.2 385.9a2.25 2.25 0 1 0 4.5 0a2.25 2.25 0 1 0 -4.5 0M505.3 398.5a2.25 2.25 0 1 0 4.5 0a2.25 2.25 0 1 0 -4.5 0M508.9 375.7a2.25 2.25 0 1 0 4.5 0a2.25 2.25 0 1 0 -4.5 0M508.8 389.4a2.25 2.25 0 1 0 4.5 0a2.25 2.25 0 1 0 -4.5 0M512.6 373.3a2.25 2.25 0 1 0 4.5 0a2.25 2.25 0 1 0 -4.5 0M508.9 382.8a2.25 2.25 0 1 0 4.5 0a2.25 2.25 0 1 0 -4.5 0M513.0 364.2a2.25 2.25 0 1 0 4.5 0a2.25 2.25 0 1 0 -4.5 0M511.7 396.7a2.25 2.25 0 1 0 4.5 0a2.25 2.25 0 1 0 -4.5 0M508.8 354.3a2.25 2.25 0 1 0 4.5 0a2.25 2.25 0 1 0 -4.5 0M506.3 382.6a2.25 2.25 0 1 0 4.5 0a2.25 2.25 0 1 0 -4.5 0M511.0 396.6a2.25 2.25 0 1 0 4.5 0a2.25 2.25 0 1 0 -4.5 0M513.0 355.0a2.25 2.25 0 1 0 4.5 0a2.25 2.25 0 1 0 -4.5 0M505.8 356.0a2.25 2.25 0 1 0 4.5 0a2.25 2.25 0 1 0 -4.5 0M505.8 381.9a2.25 2.25 0 1 0 4.5 0a2.25 2.25 0 1 0 -4.5 0M513.0 393.2a2.25 2.25 0 1 0 4.5 0a2.25 2.25 0 1 0 -4.5 0M506.5 391.2a2.25 2.25 0 1 0 4.5 0a2.25 2.25 0 1 0 -4.5 0M507.1 365.6a2.25 2.25 0 1 0 4.5 0a2.25 2.25 0 1 0 -4.5 0M511.6 346.0a2.25 2.25 0 1 0 4.5 0a2.25 2.25 0 1 0 -4.5 0M504.8 389.4a2.25 2.25 0 1 0 4.5 0a2.25 2.25 0 1 0 -4.5 0M506.9 361.7a2.25 2.25 0 1 0 4.5 0a2.25 2.25 0 1 0 -4.5 0M510.0 380.2a2.25 2.25 0 1 0 4.5 0a2.25 2.25 0 1 0 -4.5 0M503.8 360.4a2.25 2.25 0 1 0 4.5 0a2.25 2.25 0 1 0 -4.5 0M508.5 369.2a2.25 2.25 0 1 0 4.5 0a2.25 2.25 0 1 0 -4.5 0M506.0 374.9a2.25 2.25 0 1 0 4.5 0a2.25 2.25 0 1 0 -4.5 0M514.1 363.7a2.25 2.25 0 1 0 4.5 0a2.25 2.25 0 1 0 -4.5 0M509.6 347.9a2.25 2.25 0 1 0 4.5 0a2.25 2.25 0 1 0 -4.5 0M506.7 379.6a2.25 2.25 0 1 0 4.5 0a2.25 2.25 0 1 0 -4.5 0M505.0 392.5a2.25 2.25 0 1 0 4.5 0a2.25 2.25 0 1 0 -4.5 0M513.6 346.6a2.25 2.25 0 1 0 4.5 0a2.25 2.25 0 1 0 -4.5 0M513.9 362.7a2.25 2.25 0 1 0 4.5 0a2.25 2.25 0 1 0 -4.5 0M512.1 384.9a2.25 2.25 0 1 0 4.5 0a2.25 2.25 0 1 0 -4.5 0M506.9 380.2a2.25 2.25 0 1 0 4.5 0a2.25 2.25 0 1 0 -4.5 0M510.8 387.8a2.25 2.25 0 1 0 4.5 0a2.25 2.25 0 1 0 -4.5 0M506.6 384.7a2.25 2.25 0 1 0 4.5 0a2.25 2.25 0 1 0 -4.5 0M514.1 380.0a2.25 2.25 0 1 0 4.5 0a2.25 2.25 0 1 0 -4.5 0M509.5 347.6a2.25 2.25 0 1 0 4.5 0a2.25 2.25 0 1 0 -4.5 0M509.1 361.4a2.25 2.25 0 1 0 4.5 0a2.25 2.25 0 1 0 -4.5 0M511.5 380.4a2.25 2.25 0 1 0 4.5 0a2.25 2.25 0 1 0 -4.5 0M509.9 351.6a2.25 2.25 0 1 0 4.5 0a2.25 2.25 0 1 0 -4.5 0M510.7 377.6a2.25 2.25 0 1 0 4.5 0a2.25 2.25 0 1 0 -4.5 0M505.7 392.6a2.25 2.25 0 1 0 4.5 0a2.25 2.25 0 1 0 -4.5 0M510.8 348.1a2.25 2.25 0 1 0 4.5 0a2.25 2.25 0 1 0 -4.5 0M513.8 349.2a2.25 2.25 0 1 0 4.5 0a2.25 2.25 0 1 0 -4.5 0M507.3 382.8a2.25 2.25 0 1 0 4.5 0a2.25 2.25 0 1 0 -4.5 0M510.2 373.2a2.25 2.25 0 1 0 4.5 0a2.25 2.25 0 1 0 -4.5 0M510.7 367.5a2.25 2.25 0 1 0 4.5 0a2.25 2.25 0 1 0 -4.5 0M507.1 351.2a2.25 2.25 0 1 0 4.5 0a2.25 2.25 0 1 0 -4.5 0M504.5 382.5a2.25 2.25 0 1 0 4.5 0a2.25 2.25 0 1 0 -4.5 0M511.9 372.5a2.25 2.25 0 1 0 4.5 0a2.25 2.25 0 1 0 -4.5 0M511.7 361.8a2.25 2.25 0 1 0 4.5 0a2.25 2.25 0 1 0 -4.5 0M506.6 363.2a2.25 2.25 0 1 0 4.5 0a2.25 2.25 0 1 0 -4.5 0M513.2 343.4a2.25 2.25 0 1 0 4.5 0a2.25 2.25 0 1 0 -4.5 0M509.2 355.3a2.25 2.25 0 1 0 4.5 0a2.25 2.25 0 1 0 -4.5 0M512.1 361.5a2.25 2.25 0 1 0 4.5 0a2.25 2.25 0 1 0 -4.5 0M507.3 364.4a2.25 2.25 0 1 0 4.5 0a2.25 2.25 0 1 0 -4.5 0M509.6 385.8a2.25 2.25 0 1 0 4.5 0a2.25 2.25 0 1 0 -4.5 0M507.6 390.1a2.25 2.25 0 1 0 4.5 0a2.25 2.25 0 1 0 -4.5 0M505.0 356.7a2.25 2.25 0 1 0 4.5 0a2.25 2.25 0 1 0 -4.5 0M504.8 347.5a2.25 2.25 0 1 0 4.5 0a2.25 2.25 0 1 0 -4.5 0M512.2 383.2a2.25 2.25 0 1 0 4.5 0a2.25 2.25 0 1 0 -4.5 0M505.7 352.0a2.25 2.25 0 1 0 4.5 0a2.25 2.25 0 1 0 -4.5 0M508.2 384.1a2.25 2.25 0 1 0 4.5 0a2.25 2.25 0 1 0 -4.5 0M512.6 384.4a2.25 2.25 0 1 0 4.5 0a2.25 2.25 0 1 0 -4.5 0M510.1 349.5a2.25 2.25 0 1 0 4.5 0a2.25 2.25 0 1 0 -4.5 0M508.1 352.2a2.25 2.25 0 1 0 4.5 0a2.25 2.25 0 1 0 -4.5 0M509.4 374.0a2.25 2.25 0 1 0 4.5 0a2.25 2.25 0 1 0 -4.5 0M505.9 355.5a2.25 2.25 0 1 0 4.5 0a2.25 2.25 0 1 0 -4.5 0M512.2 342.7a2.25 2.25 0 1 0 4.5 0a2.25 2.25 0 1 0 -4.5 0M512.4 392.7a2.25 2.25 0 1 0 4.5 0a2.25 2.25 0 1 0 -4.5 0M514.0 363.2a2.25 2.25 0 1 0 4.5 0a2.25 2.25 0 1 0 -4.5 0M509.7 374.8a2.25 2.25 0 1 0 4.5 0a2.25 2.25 0 1 0 -4.5 0M510.6 397.7a2.25 2.25 0 1 0 4.5 0a2.25 2.25 0 1 0 -4.5 0M511.2 358.4a2.25 2.25 0 1 0 4.5 0a2.25 2.25 0 1 0 -4.5 0M513.0 369.1a2.25 2.25 0 1 0 4.5 0a2.25 2.25 0 1 0 -4.5 0M510.2 383.2a2.25 2.25 0 1 0 4.5 0a2.25 2.25 0 1 0 -4.5 0M503.8 385.7a2.25 2.25 0 1 0 4.5 0a2.25 2.25 0 1 0 -4.5 0M510.9 369.5a2.25 2.25 0 1 0 4.5 0a2.25 2.25 0 1 0 -4.5 0M509.4 367.7a2.25 2.25 0 1 0 4.5 0a2.25 2.25 0 1 0 -4.5 0M505.8 371.7a2.25 2.25 0 1 0 4.5 0a2.25 2.25 0 1 0 -4.5 0M504.2 370.0a2.25 2.25 0 1 0 4.5 0a2.25 2.25 0 1 0 -4.5 0M510.7 366.8a2.25 2.25 0 1 0 4.5 0a2.25 2.25 0 1 0 -4.5 0M509.9 396.6a2.25 2.25 0 1 0 4.5 0a2.25 2.25 0 1 0 -4.5 0M513.4 348.9a2.25 2.25 0 1 0 4.5 0a2.25 2.25 0 1 0 -4.5 0M512.3 377.2a2.25 2.25 0 1 0 4.5 0a2.25 2.25 0 1 0 -4.5 0M504.3 361.9a2.25 2.25 0 1 0 4.5 0a2.25 2.25 0 1 0 -4.5 0M506.3 345.5a2.25 2.25 0 1 0 4.5 0a2.25 2.25 0 1 0 -4.5 0M509.6 394.9a2.25 2.25 0 1 0 4.5 0a2.25 2.25 0 1 0 -4.5 0M507.2 391.5a2.25 2.25 0 1 0 4.5 0a2.25 2.25 0 1 0 -4.5 0M511.3 348.8a2.25 2.25 0 1 0 4.5 0a2.25 2.25 0 1 0 -4.5 0M513.0 375.9a2.25 2.25 0 1 0 4.5 0a2.25 2.25 0 1 0 -4.5 0M513.8 382.5a2.25 2.25 0 1 0 4.5 0a2.25 2.25 0 1 0 -4.5 0M511.7 360.9a2.25 2.25 0 1 0 4.5 0a2.25 2.25 0 1 0 -4.5 0M512.5 395.0a2.25 2.25 0 1 0 4.5 0a2.25 2.25 0 1 0 -4.5 0M513.1 366.3a2.25 2.25 0 1 0 4.5 0a2.25 2.25 0 1 0 -4.5 0M511.9 369.1a2.25 2.25 0 1 0 4.5 0a2.25 2.25 0 1 0 -4.5 0M504.9 343.5a2.25 2.25 0 1 0 4.5 0a2.25 2.25 0 1 0 -4.5 0M504.6 352.6a2.25 2.25 0 1 0 4.5 0a2.25 2.25 0 1 0 -4.5 0M505.5 369.8a2.25 2.25 0 1 0 4.5 0a2.25 2.25 0 1 0 -4.5 0M511.3 372.2a2.25 2.25 0 1 0 4.5 0a2.25 2.25 0 1 0 -4.5 0M508.3 378.7a2.25 2.25 0 1 0 4.5 0a2.25 2.25 0 1 0 -4.5 0M507.0 367.9a2.25 2.25 0 1 0 4.5 0a2.25 2.25 0 1 0 -4.5 0M511.9 364.3a2.25 2.25 0 1 0 4.5 0a2.25 2.25 0 1 0 -4.5 0M505.7 393.2a2.25 2.25 0 1 0 4.5 0a2.25 2.25 0 1 0 -4.5 0M511.5 362.3a2.25 2.25 0 1 0 4.5 0a2.25 2.25 0 1 0 -4.5 0M507.8 371.7a2.25 2.25 0 1 0 4.5 0a2.25 2.25 0 1 0 -4.5 0M510.2 354.0a2.25 2.25 0 1 0 4.5 0a2.25 2.25 0 1 0 -4.5 0M503.8 353.1a2.25 2.25 0 1 0 4.5 0a2.25 2.25 0 1 0 -4.5 0M512.2 349.3a2.25 2.25 0 1 0 4.5 0a2.25 2.25 0 1 0 -4.5 0M508.7 352.3a2.25 2.25 0 1 0 4.5 0a2.25 2.25 0 1 0 -4.5 0M506.0 350.9a2.25 2.25 0 1 0 4.5 0a2.25 2.25 0 1 0 -4.5 0M508.1 350.8a2.25 2.25 0 1 0 4.5 0a2.25 2.25 0 1 0 -4.5 0M504.0 347.4a2.25 2.25 0 1 0 4.5 0a2.25 2.25 0 1 0 -4.5 0M505.6 369.4a2.25 2.25 0 1 0 4.5 0a2.25 2.25 0 1 0 -4.5 0M504.4 342.3a2.25 2.25 0 1 0 4.5 0a2.25 2.25 0 1 0 -4.5 0M508.6 364.6a2.25 2.25 0 1 0 4.5 0a2.25 2.25 0 1 0 -4.5 0M511.3 344.0a2.25 2.25 0 1 0 4.5 0a2.25 2.25 0 1 0 -4.5 0M508.1 364.0a2.25 2.25 0 1 0 4.5 0a2.25 2.25 0 1 0 -4.5 0M504.0 397.0a2.25 2.25 0 1 0 4.5 0a2.25 2.25 0 1 0 -4.5 0M506.1 346.5a2.25 2.25 0 1 0 4.5 0a2.25 2.25 0 1 0 -4.5 0M508.9 350.6a2.25 2.25 0 1 0 4.5 0a2.25 2.25 0 1 0 -4.5 0M510.5 361.1a2.25 2.25 0 1 0 4.5 0a2.25 2.25 0 1 0 -4.5 0M505.1 344.0a2.25 2.25 0 1 0 4.5 0a2.25 2.25 0 1 0 -4.5 0M511.6 357.0a2.25 2.25 0 1 0 4.5 0a2.25 2.25 0 1 0 -4.5 0M512.3 368.0a2.25 2.25 0 1 0 4.5 0a2.25 2.25 0 1 0 -4.5 0M513.8 358.4a2.25 2.25 0 1 0 4.5 0a2.25 2.25 0 1 0 -4.5 0M506.4 356.4a2.25 2.25 0 1 0 4.5 0a2.25 2.25 0 1 0 -4.5 0M512.5 377.5a2.25 2.25 0 1 0 4.5 0a2.25 2.25 0 1 0 -4.5 0M507.5 346.4a2.25 2.25 0 1 0 4.5 0a2.25 2.25 0 1 0 -4.5 0M511.1 397.2a2.25 2.25 0 1 0 4.5 0a2.25 2.25 0 1 0 -4.5 0M510.1 341.2a2.25 2.25 0 1 0 4.5 0a2.25 2.25 0 1 0 -4.5 0M504.1 346.3a2.25 2.25 0 1 0 4.5 0a2.25 2.25 0 1 0 -4.5 0M505.6 343.1a2.25 2.25 0 1 0 4.5 0a2.25 2.25 0 1 0 -4.5 0M504.3 379.0a2.25 2.25 0 1 0 4.5 0a2.25 2.25 0 1 0 -4.5 0M513.5 352.6a2.25 2.25 0 1 0 4.5 0a2.25 2.25 0 1 0 -4.5 0M514.3 368.7a2.25 2.25 0 1 0 4.5 0a2.25 2.25 0 1 0 -4.5 0M512.4 394.2a2.25 2.25 0 1 0 4.5 0a2.25 2.25 0 1 0 -4.5 0M513.9 343.0a2.25 2.25 0 1 0 4.5 0a2.25 2.25 0 1 0 -4.5 0M507.0 376.2a2.25 2.25 0 1 0 4.5 0a2.25 2.25 0 1 0 -4.5 0M514.0 346.1a2.25 2.25 0 1 0 4.5 0a2.25 2.25 0 1 0 -4.5 0M506.9 390.3a2.25 2.25 0 1 0 4.5 0a2.25 2.25 0 1 0 -4.5 0M505.0 363.6a2.25 2.25 0 1 0 4.5 0a2.25 2.25 0 1 0 -4.5 0M507.4 380.4a2.25 2.25 0 1 0 4.5 0a2.25 2.25 0 1 0 -4.5 0M513.8 351.1a2.25 2.25 0 1 0 4.5 0a2.25 2.25 0 1 0 -4.5 0M511.7 383.6a2.25 2.25 0 1 0 4.5 0a2.25 2.25 0 1 0 -4.5 0M512.8 373.1a2.25 2.25 0 1 0 4.5 0a2.25 2.25 0 1 0 -4.5 0M513.7 362.0a2.25 2.25 0 1 0 4.5 0a2.25 2.25 0 1 0 -4.5 0M508.2 354.3a2.25 2.25 0 1 0 4.5 0a2.25 2.25 0 1 0 -4.5 0M512.2 368.9a2.25 2.25 0 1 0 4.5 0a2.25 2.25 0 1 0 -4.5 0M506.7 350.8a2.25 2.25 0 1 0 4.5 0a2.25 2.25 0 1 0 -4.5 0M511.5 376.1a2.25 2.25 0 1 0 4.5 0a2.25 2.25 0 1 0 -4.5 0M511.4 363.4a2.25 2.25 0 1 0 4.5 0a2.25 2.25 0 1 0 -4.5 0M509.0 349.9a2.25 2.25 0 1 0 4.5 0a2.25 2.25 0 1 0 -4.5 0M511.4 342.3a2.25 2.25 0 1 0 4.5 0a2.25 2.25 0 1 0 -4.5 0M508.8 385.0a2.25 2.25 0 1 0 4.5 0a2.25 2.25 0 1 0 -4.5 0M511.1 346.6a2.25 2.25 0 1 0 4.5 0a2.25 2.25 0 1 0 -4.5 0M506.3 389.9a2.25 2.25 0 1 0 4.5 0a2.25 2.25 0 1 0 -4.5 0M510.7 392.0a2.25 2.25 0 1 0 4.5 0a2.25 2.25 0 1 0 -4.5 0M513.2 367.1a2.25 2.25 0 1 0 4.5 0a2.25 2.25 0 1 0 -4.5 0M513.4 383.5a2.25 2.25 0 1 0 4.5 0a2.25 2.25 0 1 0 -4.5 0M507.4 362.5a2.25 2.25 0 1 0 4.5 0a2.25 2.25 0 1 0 -4.5 0M504.5 364.2a2.25 2.25 0 1 0 4.5 0a2.25 2.25 0 1 0 -4.5 0M514.1 347.1a2.25 2.25 0 1 0 4.5 0a2.25 2.25 0 1 0 -4.5 0M509.9 347.4a2.25 2.25 0 1 0 4.5 0a2.25 2.25 0 1 0 -4.5 0M504.6 378.7a2.25 2.25 0 1 0 4.5 0a2.25 2.25 0 1 0 -4.5 0M506.3 343.8a2.25 2.25 0 1 0 4.5 0a2.25 2.25 0 1 0 -4.5 0M505.4 378.4a2.25 2.25 0 1 0 4.5 0a2.25 2.25 0 1 0 -4.5 0M510.1 341.7a2.25 2.25 0 1 0 4.5 0a2.25 2.25 0 1 0 -4.5 0M506.2 397.1a2.25 2.25 0 1 0 4.5 0a2.25 2.25 0 1 0 -4.5 0M506.1 373.6a2.25 2.25 0 1 0 4.5 0a2.25 2.25 0 1 0 -4.5 0M508.3 386.3a2.25 2.25 0 1 0 4.5 0a2.25 2.25 0 1 0 -4.5 0M510.3 386.7a2.25 2.25 0 1 0 4.5 0a2.25 2.25 0 1 0 -4.5 0M509.5 351.9a2.25 2.25 0 1 0 4.5 0a2.25 2.25 0 1 0 -4.5 0M505.7 345.6a2.25 2.25 0 1 0 4.5 0a2.25 2.25 0 1 0 -4.5 0M512.7 347.5a2.25 2.25 0 1 0 4.5 0a2.25 2.25 0 1 0 -4.5 0M504.0 397.1a2.25 2.25 0 1 0 4.5 0a2.25 2.25 0 1 0 -4.5 0M505.9 392.8a2.25 2.25 0 1 0 4.5 0a2.25 2.25 0 1 0 -4.5 0M504.7 368.0a2.25 2.25 0 1 0 4.5 0a2.25 2.25 0 1 0 -4.5 0M506.2 389.1a2.25 2.25 0 1 0 4.5 0a2.25 2.25 0 1 0 -4.5 0M510.4 378.2a2.25 2.25 0 1 0 4.5 0a2.25 2.25 0 1 0 -4.5 0M512.0 391.6a2.25 2.25 0 1 0 4.5 0a2.25 2.25 0 1 0 -4.5 0M507.5 376.0a2.25 2.25 0 1 0 4.5 0a2.25 2.25 0 1 0 -4.5 0M508.6 347.4a2.25 2.25 0 1 0 4.5 0a2.25 2.25 0 1 0 -4.5 0M512.8 375.5a2.25 2.25 0 1 0 4.5 0a2.25 2.25 0 1 0 -4.5 0M512.5 352.9a2.25 2.25 0 1 0 4.5 0a2.25 2.25 0 1 0 -4.5 0M509.6 367.9a2.25 2.25 0 1 0 4.5 0a2.25 2.25 0 1 0 -4.5 0M511.6 345.5a2.25 2.25 0 1 0 4.5 0a2.25 2.25 0 1 0 -4.5 0M507.5 369.1a2.25 2.25 0 1 0 4.5 0a2.25 2.25 0 1 0 -4.5 0M504.5 373.1a2.25 2.25 0 1 0 4.5 0a2.25 2.25 0 1 0 -4.5 0M511.7 365.5a2.25 2.25 0 1 0 4.5 0a2.25 2.25 0 1 0 -4.5 0M510.8 376.1a2.25 2.25 0 1 0 4.5 0a2.25 2.25 0 1 0 -4.5 0M506.1 361.3a2.25 2.25 0 1 0 4.5 0a2.25 2.25 0 1 0 -4.5 0M514.5 360.4a2.25 2.25 0 1 0 4.5 0a2.25 2.25 0 1 0 -4.5 0M508.4 345.9a2.25 2.25 0 1 0 4.5 0a2.25 2.25 0 1 0 -4.5 0M506.1 350.6a2.25 2.25 0 1 0 4.5 0a2.25 2.25 0 1 0 -4.5 0M513.8 383.1a2.25 2.25 0 1 0 4.5 0a2.25 2.25 0 1 0 -4.5 0M513.2 398.2a2.25 2.25 0 1 0 4.5 0a2.25 2.25 0 1 0 -4.5 0M510.4 395.0a2.25 2.25 0 1 0 4.5 0a2.25 2.25 0 1 0 -4.5 0M509.5 365.3a2.25 2.25 0 1 0 4.5 0a2.25 2.25 0 1 0 -4.5 0M514.0 393.4a2.25 2.25 0 1 0 4.5 0a2.25 2.25 0 1 0 -4.5 0M514.0 369.1a2.25 2.25 0 1 0 4.5 0a2.25 2.25 0 1 0 -4.5 0M512.1 364.6a2.25 2.25 0 1 0 4.5 0a2.25 2.25 0 1 0 -4.5 0M514.5 394.4a2.25 2.25 0 1 0 4.5 0a2.25 2.25 0 1 0 -4.5 0M506.9 395.2a2.25 2.25 0 1 0 4.5 0a2.25 2.25 0 1 0 -4.5 0M505.7 346.6a2.25 2.25 0 1 0 4.5 0a2.25 2.25 0 1 0 -4.5 0M511.6 358.1a2.25 2.25 0 1 0 4.5 0a2.25 2.25 0 1 0 -4.5 0M509.4 378.1a2.25 2.25 0 1 0 4.5 0a2.25 2.25 0 1 0 -4.5 0M504.2 384.2a2.25 2.25 0 1 0 4.5 0a2.25 2.25 0 1 0 -4.5 0M506.7 366.1a2.25 2.25 0 1 0 4.5 0a2.25 2.25 0 1 0 -4.5 0M507.5 384.0a2.25 2.25 0 1 0 4.5 0a2.25 2.25 0 1 0 -4.5 0M511.8 357.7a2.25 2.25 0 1 0 4.5 0a2.25 2.25 0 1 0 -4.5 0M504.9 358.4a2.25 2.25 0 1 0 4.5 0a2.25 2.25 0 1 0 -4.5 0M508.2 345.5a2.25 2.25 0 1 0 4.5 0a2.25 2.25 0 1 0 -4.5 0M505.4 385.2a2.25 2.25 0 1 0 4.5 0a2.25 2.25 0 1 0 -4.5 0M511.3 397.6a2.25 2.25 0 1 0 4.5 0a2.25 2.25 0 1 0 -4.5 0M514.3 391.8a2.25 2.25 0 1 0 4.5 0a2.25 2.25 0 1 0 -4.5 0M507.8 350.4a2.25 2.25 0 1 0 4.5 0a2.25 2.25 0 1 0 -4.5 0M507.1 367.9a2.25 2.25 0 1 0 4.5 0a2.25 2.25 0 1 0 -4.5 0M509.4 372.4a2.25 2.25 0 1 0 4.5 0a2.25 2.25 0 1 0 -4.5 0M507.6 390.5a2.25 2.25 0 1 0 4.5 0a2.25 2.25 0 1 0 -4.5 0M506.8 367.9a2.25 2.25 0 1 0 4.5 0a2.25 2.25 0 1 0 -4.5 0M513.3 387.8a2.25 2.25 0 1 0 4.5 0a2.25 2.25 0 1 0 -4.5 0M507.0 355.1a2.25 2.25 0 1 0 4.5 0a2.25 2.25 0 1 0 -4.5 0M512.5 341.6a2.25 2.25 0 1 0 4.5 0a2.25 2.25 0 1 0 -4.5 0M505.2 371.8a2.25 2.25 0 1 0 4.5 0a2.25 2.25 0 1 0 -4.5 0M509.5 350.6a2.25 2.25 0 1 0 4.5 0a2.25 2.25 0 1 0 -4.5 0M504.3 352.8a2.25 2.25 0 1 0 4.5 0a2.25 2.25 0 1 0 -4.5 0M512.1 368.0a2.25 2.25 0 1 0 4.5 0a2.25 2.25 0 1 0 -4.5 0M514.3 386.6a2.25 2.25 0 1 0 4.5 0a2.25 2.25 0 1 0 -4.5 0M514.3 343.0a2.25 2.25 0 1 0 4.5 0a2.25 2.25 0 1 0 -4.5 0M505.7 341.8a2.25 2.25 0 1 0 4.5 0a2.25 2.25 0 1 0 -4.5 0M508.4 360.6a2.25 2.25 0 1 0 4.5 0a2.25 2.25 0 1 0 -4.5 0M504.3 372.7a2.25 2.25 0 1 0 4.5 0a2.25 2.25 0 1 0 -4.5 0M504.8 359.1a2.25 2.25 0 1 0 4.5 0a2.25 2.25 0 1 0 -4.5 0M506.4 387.5a2.25 2.25 0 1 0 4.5 0a2.25 2.25 0 1 0 -4.5 0M508.3 356.1a2.25 2.25 0 1 0 4.5 0a2.25 2.25 0 1 0 -4.5 0M504.2 365.9a2.25 2.25 0 1 0 4.5 0a2.25 2.25 0 1 0 -4.5 0M510.5 380.2a2.25 2.25 0 1 0 4.5 0a2.25 2.25 0 1 0 -4.5 0M513.6 387.9a2.25 2.25 0 1 0 4.5 0a2.25 2.25 0 1 0 -4.5 0M506.4 348.9a2.25 2.25 0 1 0 4.5 0a2.25 2.25 0 1 0 -4.5 0M511.9 386.8a2.25 2.25 0 1 0 4.5 0a2.25 2.25 0 1 0 -4.5 0M509.2 389.2a2.25 2.25 0 1 0 4.5 0a2.25 2.25 0 1 0 -4.5 0M509.7 357.2a2.25 2.25 0 1 0 4.5 0a2.25 2.25 0 1 0 -4.5 0M505.6 342.0a2.25 2.25 0 1 0 4.5 0a2.25 2.25 0 1 0 -4.5 0M510.7 393.0a2.25 2.25 0 1 0 4.5 0a2.25 2.25 0 1 0 -4.5 0M513.5 368.1a2.25 2.25 0 1 0 4.5 0a2.25 2.25 0 1 0 -4.5 0M510.9 394.9a2.25 2.25 0 1 0 4.5 0a2.25 2.25 0 1 0 -4.5 0M512.5 376.0a2.25 2.25 0 1 0 4.5 0a2.25 2.25 0 1 0 -4.5 0M508.2 371.1a2.25 2.25 0 1 0 4.5 0a2.25 2.25 0 1 0 -4.5 0M505.6 351.6a2.25 2.25 0 1 0 4.5 0a2.25 2.25 0 1 0 -4.5 0M511.1 398.5a2.25 2.25 0 1 0 4.5 0a2.25 2.25 0 1 0 -4.5 0M509.7 364.7a2.25 2.25 0 1 0 4.5 0a2.25 2.25 0 1 0 -4.5 0M507.6 367.4a2.25 2.25 0 1 0 4.5 0a2.25 2.25 0 1 0 -4.5 0M512.4 367.2a2.25 2.25 0 1 0 4.5 0a2.25 2.25 0 1 0 -4.5 0M514.1 350.0a2.25 2.25 0 1 0 4.5 0a2.25 2.25 0 1 0 -4.5 0M507.2 371.3a2.25 2.25 0 1 0 4.5 0a2.25 2.25 0 1 0 -4.5 0M508.2 390.4a2.25 2.25 0 1 0 4.5 0a2.25 2.25 0 1 0 -4.5 0M512.7 395.0a2.25 2.25 0 1 0 4.5 0a2.25 2.25 0 1 0 -4.5 0M510.4 342.8a2.25 2.25 0 1 0 4.5 0a2.25 2.25 0 1 0 -4.5 0M510.0 372.9a2.25 2.25 0 1 0 4.5 0a2.25 2.25 0 1 0 -4.5 0M509.0 357.2a2.25 2.25 0 1 0 4.5 0a2.25 2.25 0 1 0 -4.5 0M511.4 393.9a2.25 2.25 0 1 0 4.5 0a2.25 2.25 0 1 0 -4.5 0M504.9 379.8a2.25 2.25 0 1 0 4.5 0a2.25 2.25 0 1 0 -4.5 0M507.8 370.9a2.25 2.25 0 1 0 4.5 0a2.25 2.25 0 1 0 -4.5 0M513.4 396.7a2.25 2.25 0 1 0 4.5 0a2.25 2.25 0 1 0 -4.5 0M510.7 352.3a2.25 2.25 0 1 0 4.5 0a2.25 2.25 0 1 0 -4.5 0M513.7 351.5a2.25 2.25 0 1 0 4.5 0a2.25 2.25 0 1 0 -4.5 0M507.9 389.0a2.25 2.25 0 1 0 4.5 0a2.25 2.25 0 1 0 -4.5 0M507.2 356.7a2.25 2.25 0 1 0 4.5 0a2.25 2.25 0 1 0 -4.5 0M514.0 395.7a2.25 2.25 0 1 0 4.5 0a2.25 2.25 0 1 0 -4.5 0M507.2 363.8a2.25 2.25 0 1 0 4.5 0a2.25 2.25 0 1 0 -4.5 0M506.8 348.6a2.25 2.25 0 1 0 4.5 0a2.25 2.25 0 1 0 -4.5 0M506.5 397.8a2.25 2.25 0 1 0 4.5 0a2.25 2.25 0 1 0 -4.5 0M504.6 354.3a2.25 2.25 0 1 0 4.5 0a2.25 2.25 0 1 0 -4.5 0M505.9 345.6a2.25 2.25 0 1 0 4.5 0a2.25 2.25 0 1 0 -4.5 0M509.4 384.1a2.25 2.25 0 1 0 4.5 0a2.25 2.25 0 1 0 -4.5 0M512.8 377.6a2.25 2.25 0 1 0 4.5 0a2.25 2.25 0 1 0 -4.5 0M512.6 341.3a2.25 2.25 0 1 0 4.5 0a2.25 2.25 0 1 0 -4.5 0M506.8 396.7a2.25 2.25 0 1 0 4.5 0a2.25 2.25 0 1 0 -4.5 0M504.5 356.5a2.25 2.25 0 1 0 4.5 0a2.25 2.25 0 1 0 -4.5 0M509.0 356.5a2.25 2.25 0 1 0 4.5 0a2.25 2.25 0 1 0 -4.5 0M509.6 343.7a2.25 2.25 0 1 0 4.5 0a2.25 2.25 0 1 0 -4.5 0M506.3 396.5a2.25 2.25 0 1 0 4.5 0a2.25 2.25 0 1 0 -4.5 0M505.3 393.5a2.25 2.25 0 1 0 4.5 0a2.25 2.25 0 1 0 -4.5 0M505.7 398.6a2.25 2.25 0 1 0 4.5 0a2.25 2.25 0 1 0 -4.5 0M511.0 378.5a2.25 2.25 0 1 0 4.5 0a2.25 2.25 0 1 0 -4.5 0M505.3 344.2a2.25 2.25 0 1 0 4.5 0a2.25 2.25 0 1 0 -4.5 0M512.0 351.2a2.25 2.25 0 1 0 4.5 0a2.25 2.25 0 1 0 -4.5 0M505.8 388.7a2.25 2.25 0 1 0 4.5 0a2.25 2.25 0 1 0 -4.5 0M513.2 343.8a2.25 2.25 0 1 0 4.5 0a2.25 2.25 0 1 0 -4.5 0M514.1 372.0a2.25 2.25 0 1 0 4.5 0a2.25 2.25 0 1 0 -4.5 0M507.9 347.2a2.25 2.25 0 1 0 4.5 0a2.25 2.25 0 1 0 -4.5 0M508.0 398.3a2.25 2.25 0 1 0 4.5 0a2.25 2.25 0 1 0 -4.5 0M506.8 348.6a2.25 2.25 0 1 0 4.5 0a2.25 2.25 0 1 0 -4.5 0M505.3 348.4a2.25 2.25 0 1 0 4.5 0a2.25 2.25 0 1 0 -4.5 0M507.6 394.1a2.25 2.25 0 1 0 4.5 0a2.25 2.25 0 1 0 -4.5 0M504.6 352.1a2.25 2.25 0 1 0 4.5 0a2.25 2.25 0 1 0 -4.5 0M513.9 398.8a2.25 2.25 0 1 0 4.5 0a2.25 2.25 0 1 0 -4.5 0M514.3 355.3a2.25 2.25 0 1 0 4.5 0a2.25 2.25 0 1 0 -4.5 0M507.6 396.1a2.25 2.25 0 1 0 4.5 0a2.25 2.25 0 1 0 -4.5 0M509.0 381.8a2.25 2.25 0 1 0 4.5 0a2.25 2.25 0 1 0 -4.5 0M507.1 342.2a2.25 2.25 0 1 0 4.5 0a2.25 2.25 0 1 0 -4.5 0M507.5 384.4a2.25 2.25 0 1 0 4.5 0a2.25 2.25 0 1 0 -4.5 0M512.2 374.0a2.25 2.25 0 1 0 4.5 0a2.25 2.25 0 1 0 -4.5 0M508.8 372.2a2.25 2.25 0 1 0 4.5 0a2.25 2.25 0 1 0 -4.5 0M508.5 372.0a2.25 2.25 0 1 0 4.5 0a2.25 2.25 0 1 0 -4.5 0M512.7 352.6a2.25 2.25 0 1 0 4.5 0a2.25 2.25 0 1 0 -4.5 0M510.2 395.1a2.25 2.25 0 1 0 4.5 0a2.25 2.25 0 1 0 -4.5 0M512.9 351.4a2.25 2.25 0 1 0 4.5 0a2.25 2.25 0 1 0 -4.5 0M514.2 389.7a2.25 2.25 0 1 0 4.5 0a2.25 2.25 0 1 0 -4.5 0M505.6 356.4a2.25 2.25 0 1 0 4.5 0a2.25 2.25 0 1 0 -4.5 0M505.9 344.1a2.25 2.25 0 1 0 4.5 0a2.25 2.25 0 1 0 -4.5 0M514.3 364.7a2.25 2.25 0 1 0 4.5 0a2.25 2.25 0 1 0 -4.5 0M513.2 347.6a2.25 2.25 0 1 0 4.5 0a2.25 2.25 0 1 0 -4.5 0M503.9 391.4a2.25 2.25 0 1 0 4.5 0a2.25 2.25 0 1 0 -4.5 0M512.3 398.5a2.25 2.25 0 1 0 4.5 0a2.25 2.25 0 1 0 -4.5 0M511.2 371.5a2.25 2.25 0 1 0 4.5 0a2.25 2.25 0 1 0 -4.5 0M512.0 346.4a2.25 2.25 0 1 0 4.5 0a2.25 2.25 0 1 0 -4.5 0M509.6 366.6a2.25 2.25 0 1 0 4.5 0a2.25 2.25 0 1 0 -4.5 0M505.3 375.8a2.25 2.25 0 1 0 4.5 0a2.25 2.25 0 1 0 -4.5 0M507.2 370.4a2.25 2.25 0 1 0 4.5 0a2.25 2.25 0 1 0 -4.5 0M507.8 359.5a2.25 2.25 0 1 0 4.5 0a2.25 2.25 0 1 0 -4.5 0M507.6 375.9a2.25 2.25 0 1 0 4.5 0a2.25 2.25 0 1 0 -4.5 0M514.3 395.3a2.25 2.25 0 1 0 4.5 0a2.25 2.25 0 1 0 -4.5 0M513.1 389.4a2.25 2.25 0 1 0 4.5 0a2.25 2.25 0 1 0 -4.5 0M506.8 397.6a2.25 2.25 0 1 0 4.5 0a2.25 2.25 0 1 0 -4.5 0M506.7 348.1a2.25 2.25 0 1 0 4.5 0a2.25 2.25 0 1 0 -4.5 0M509.2 383.5a2.25 2.25 0 1 0 4.5 0a2.25 2.25 0 1 0 -4.5 0M507.4 378.4a2.25 2.25 0 1 0 4.5 0a2.25 2.25 0 1 0 -4.5 0M506.8 397.1a2.25 2.25 0 1 0 4.5 0a2.25 2.25 0 1 0 -4.5 0M508.6 368.7a2.25 2.25 0 1 0 4.5 0a2.25 2.25 0 1 0 -4.5 0M509.5 391.7a2.25 2.25 0 1 0 4.5 0a2.25 2.25 0 1 0 -4.5 0M514.4 371.7a2.25 2.25 0 1 0 4.5 0a2.25 2.25 0 1 0 -4.5 0M508.5 376.8a2.25 2.25 0 1 0 4.5 0a2.25 2.25 0 1 0 -4.5 0M504.5 365.7a2.25 2.25 0 1 0 4.5 0a2.25 2.25 0 1 0 -4.5 0M512.9 386.1a2.25 2.25 0 1 0 4.5 0a2.25 2.25 0 1 0 -4.5 0M504.4 390.6a2.25 2.25 0 1 0 4.5 0a2.25 2.25 0 1 0 -4.5 0M507.9 397.9a2.25 2.25 0 1 0 4.5 0a2.25 2.25 0 1 0 -4.5 0M507.7 353.4a2.25 2.25 0 1 0 4.5 0a2.25 2.25 0 1 0 -4.5 0M509.7 392.3a2.25 2.25 0 1 0 4.5 0a2.25 2.25 0 1 0 -4.5 0M508.4 391.3a2.25 2.25 0 1 0 4.5 0a2.25 2.25 0 1 0 -4.5 0M511.4 362.0a2.25 2.25 0 1 0 4.5 0a2.25 2.25 0 1 0 -4.5 0M507.0 370.3a2.25 2.25 0 1 0 4.5 0a2.25 2.25 0 1 0 -4.5 0M508.1 362.6a2.25 2.25 0 1 0 4.5 0a2.25 2.25 0 1 0 -4.5 0M510.8 391.8a2.25 2.25 0 1 0 4.5 0a2.25 2.25 0 1 0 -4.5 0M510.1 349.5a2.25 2.25 0 1 0 4.5 0a2.25 2.25 0 1 0 -4.5 0M506.1 362.5a2.25 2.25 0 1 0 4.5 0a2.25 2.25 0 1 0 -4.5 0M510.4 349.1a2.25 2.25 0 1 0 4.5 0a2.25 2.25 0 1 0 -4.5 0M504.6 359.6a2.25 2.25 0 1 0 4.5 0a2.25 2.25 0 1 0 -4.5 0M506.8 342.7a2.25 2.25 0 1 0 4.5 0a2.25 2.25 0 1 0 -4.5 0M509.6 394.4a2.25 2.25 0 1 0 4.5 0a2.25 2.25 0 1 0 -4.5 0M509.5 383.8a2.25 2.25 0 1 0 4.5 0a2.25 2.25 0 1 0 -4.5 0M512.7 389.6a2.25 2.25 0 1 0 4.5 0a2.25 2.25 0 1 0 -4.5 0M513.6 366.6a2.25 2.25 0 1 0 4.5 0a2.25 2.25 0 1 0 -4.5 0M511.1 348.0a2.25 2.25 0 1 0 4.5 0a2.25 2.25 0 1 0 -4.5 0M513.3 362.9a2.25 2.25 0 1 0 4.5 0a2.25 2.25 0 1 0 -4.5 0M508.9 392.6a2.25 2.25 0 1 0 4.5 0a2.25 2.25 0 1 0 -4.5 0M506.8 352.0a2.25 2.25 0 1 0 4.5 0a2.25 2.25 0 1 0 -4.5 0M512.6 375.7a2.25 2.25 0 1 0 4.5 0a2.25 2.25 0 1 0 -4.5 0M504.7 342.6a2.25 2.25 0 1 0 4.5 0a2.25 2.25 0 1 0 -4.5 0M507.5 341.4a2.25 2.25 0 1 0 4.5 0a2.25 2.25 0 1 0 -4.5 0M512.7 351.7a2.25 2.25 0 1 0 4.5 0a2.25 2.25 0 1 0 -4.5 0M506.7 363.5a2.25 2.25 0 1 0 4.5 0a2.25 2.25 0 1 0 -4.5 0M509.3 366.1a2.25 2.25 0 1 0 4.5 0a2.25 2.25 0 1 0 -4.5 0M510.5 379.3a2.25 2.25 0 1 0 4.5 0a2.25 2.25 0 1 0 -4.5 0M508.5 346.6a2.25 2.25 0 1 0 4.5 0a2.25 2.25 0 1 0 -4.5 0M514.3 381.1a2.25 2.25 0 1 0 4.5 0a2.25 2.25 0 1 0 -4.5 0M504.7 366.6a2.25 2.25 0 1 0 4.5 0a2.25 2.25 0 1 0 -4.5 0M511.9 398.5a2.25 2.25 0 1 0 4.5 0a2.25 2.25 0 1 0 -4.5 0M504.5 341.6a2.25 2.25 0 1 0 4.5 0a2.25 2.25 0 1 0 -4.5 0M508.9 365.5a2.25 2.25 0 1 0 4.5 0a2.25 2.25 0 1 0 -4.5 0M513.4 388.9a2.25 2.25 0 1 0 4.5 0a2.25 2.25 0 1 0 -4.5 0M507.3 365.3a2.25 2.25 0 1 0 4.5 0a2.25 2.25 0 1 0 -4.5 0M510.0 392.3a2.25 2.25 0 1 0 4.5 0a2.25 2.25 0 1 0 -4.5 0M505.9 363.7a2.25 2.25 0 1 0 4.5 0a2.25 2.25 0 1 0 -4.5 0M504.7 378.2a2.25 2.25 0 1 0 4.5 0a2.25 2.25 0 1 0 -4.5 0M504.0 395.2a2.25 2.25 0 1 0 4.5 0a2.25 2.25 0 1 0 -4.5 0M509.4 374.3a2.25 2.25 0 1 0 4.5 0a2.25 2.25 0 1 0 -4.5 0M504.7 354.5a2.25 2.25 0 1 0 4.5 0a2.25 2.25 0 1 0 -4.5 0M508.8 390.7a2.25 2.25 0 1 0 4.5 0a2.25 2.25 0 1 0 -4.5 0M509.6 357.5a2.25 2.25 0 1 0 4.5 0a2.25 2.25 0 1 0 -4.5 0M514.4 379.4a2.25 2.25 0 1 0 4.5 0a2.25 2.25 0 1 0 -4.5 0M509.5 352.7a2.25 2.25 0 1 0 4.5 0a2.25 2.25 0 1 0 -4.5 0M507.0 393.2a2.25 2.25 0 1 0 4.5 0a2.25 2.25 0 1 0 -4.5 0M505.2 371.8a2.25 2.25 0 1 0 4.5 0a2.25 2.25 0 1 0 -4.5 0M510.4 361.6a2.25 2.25 0 1 0 4.5 0a2.25 2.25 0 1 0 -4.5 0M512.1 393.8a2.25 2.25 0 1 0 4.5 0a2.25 2.25 0 1 0 -4.5 0M513.0 383.8a2.25 2.25 0 1 0 4.5 0a2.25 2.25 0 1 0 -4.5 0M505.9 344.5a2.25 2.25 0 1 0 4.5 0a2.25 2.25 0 1 0 -4.5 0M508.4 359.1a2.25 2.25 0 1 0 4.5 0a2.25 2.25 0 1 0 -4.5 0M505.8 391.5a2.25 2.25 0 1 0 4.5 0a2.25 2.25 0 1 0 -4.5 0M506.1 388.7a2.25 2.25 0 1 0 4.5 0a2.25 2.25 0 1 0 -4.5 0M513.9 347.9a2.25 2.25 0 1 0 4.5 0a2.25 2.25 0 1 0 -4.5 0M513.6 364.0a2.25 2.25 0 1 0 4.5 0a2.25 2.25 0 1 0 -4.5 0M506.0 351.8a2.25 2.25 0 1 0 4.5 0a2.25 2.25 0 1 0 -4.5 0M504.2 369.9a2.25 2.25 0 1 0 4.5 0a2.25 2.25 0 1 0 -4.5 0M507.9 390.4a2.25 2.25 0 1 0 4.5 0a2.25 2.25 0 1 0 -4.5 0M512.7 344.3a2.25 2.25 0 1 0 4.5 0a2.25 2.25 0 1 0 -4.5 0M508.1 363.6a2.25 2.25 0 1 0 4.5 0a2.25 2.25 0 1 0 -4.5 0M505.7 355.5a2.25 2.25 0 1 0 4.5 0a2.25 2.25 0 1 0 -4.5 0M506.6 381.3a2.25 2.25 0 1 0 4.5 0a2.25 2.25 0 1 0 -4.5 0M507.4 347.4a2.25 2.25 0 1 0 4.5 0a2.25 2.25 0 1 0 -4.5 0M506.1 366.6a2.25 2.25 0 1 0 4.5 0a2.25 2.25 0 1 0 -4.5 0M509.9 355.2a2.25 2.25 0 1 0 4.5 0a2.25 2.25 0 1 0 -4.5 0M511.3 353.5a2.25 2.25 0 1 0 4.5 0a2.25 2.25 0 1 0 -4.5 0M511.0 376.3a2.25 2.25 0 1 0 4.5 0a2.25 2.25 0 1 0 -4.5 0M505.6 384.6a2.25 2.25 0 1 0 4.5 0a2.25 2.25 0 1 0 -4.5 0M508.0 372.3a2.25 2.25 0 1 0 4.5 0a2.25 2.25 0 1 0 -4.5 0M510.2 377.4a2.25 2.25 0 1 0 4.5 0a2.25 2.25 0 1 0 -4.5 0M508.5 344.2a2.25 2.25 0 1 0 4.5 0a2.25 2.25 0 1 0 -4.5 0M512.2 390.9a2.25 2.25 0 1 0 4.5 0a2.25 2.25 0 1 0 -4.5 0M509.0 374.6a2.25 2.25 0 1 0 4.5 0a2.25 2.25 0 1 0 -4.5 0M506.6 393.1a2.25 2.25 0 1 0 4.5 0a2.25 2.25 0 1 0 -4.5 0M511.2 353.9a2.25 2.25 0 1 0 4.5 0a2.25 2.25 0 1 0 -4.5 0M512.6 398.2a2.25 2.25 0 1 0 4.5 0a2.25 2.25 0 1 0 -4.5 0M507.5 398.7a2.25 2.25 0 1 0 4.5 0a2.25 2.25 0 1 0 -4.5 0M509.0 351.4a2.25 2.25 0 1 0 4.5 0a2.25 2.25 0 1 0 -4.5 0M511.5 360.7a2.25 2.25 0 1 0 4.5 0a2.25 2.25 0 1 0 -4.5 0M511.7 374.8a2.25 2.25 0 1 0 4.5 0a2.25 2.25 0 1 0 -4.5 0M504.9 371.6a2.25 2.25 0 1 0 4.5 0a2.25 2.25 0 1 0 -4.5 0M512.9 368.7a2.25 2.25 0 1 0 4.5 0a2.25 2.25 0 1 0 -4.5 0M509.6 391.1a2.25 2.25 0 1 0 4.5 0a2.25 2.25 0 1 0 -4.5 0M508.6 369.6a2.25 2.25 0 1 0 4.5 0a2.25 2.25 0 1 0 -4.5 0M510.0 388.8a2.25 2.25 0 1 0 4.5 0a2.25 2.25 0 1 0 -4.5 0M505.9 346.4a2.25 2.25 0 1 0 4.5 0a2.25 2.25 0 1 0 -4.5 0M512.0 373.0a2.25 2.25 0 1 0 4.5 0a2.25 2.25 0 1 0 -4.5 0M507.0 392.7a2.25 2.25 0 1 0 4.5 0a2.25 2.25 0 1 0 -4.5 0M513.3 372.4a2.25 2.25 0 1 0 4.5 0a2.25 2.25 0 1 0 -4.5 0M514.4 389.5a2.25 2.25 0 1 0 4.5 0a2.25 2.25 0 1 0 -4.5 0M511.8 357.9a2.25 2.25 0 1 0 4.5 0a2.25 2.25 0 1 0 -4.5 0M503.9 380.4a2.25 2.25 0 1 0 4.5 0a2.25 2.25 0 1 0 -4.5 0M511.7 361.3a2.25 2.25 0 1 0 4.5 0a2.25 2.25 0 1 0 -4.5 0M508.9 373.9a2.25 2.25 0 1 0 4.5 0a2.25 2.25 0 1 0 -4.5 0M506.4 381.5a2.25 2.25 0 1 0 4.5 0a2.25 2.25 0 1 0 -4.5 0M509.8 363.4a2.25 2.25 0 1 0 4.5 0a2.25 2.25 0 1 0 -4.5 0M504.9 373.1a2.25 2.25 0 1 0 4.5 0a2.25 2.25 0 1 0 -4.5 0M507.2 383.0a2.25 2.25 0 1 0 4.5 0a2.25 2.25 0 1 0 -4.5 0M505.6 363.9a2.25 2.25 0 1 0 4.5 0a2.25 2.25 0 1 0 -4.5 0M505.9 364.7a2.25 2.25 0 1 0 4.5 0a2.25 2.25 0 1 0 -4.5 0M510.0 347.2a2.25 2.25 0 1 0 4.5 0a2.25 2.25 0 1 0 -4.5 0M504.3 369.0a2.25 2.25 0 1 0 4.5 0a2.25 2.25 0 1 0 -4.5 0M505.9 370.3a2.25 2.25 0 1 0 4.5 0a2.25 2.25 0 1 0 -4.5 0M505.6 346.8a2.25 2.25 0 1 0 4.5 0a2.25 2.25 0 1 0 -4.5 0M509.6 394.5a2.25 2.25 0 1 0 4.5 0a2.25 2.25 0 1 0 -4.5 0M513.1 370.9a2.25 2.25 0 1 0 4.5 0a2.25 2.25 0 1 0 -4.5 0M508.0 344.8a2.25 2.25 0 1 0 4.5 0a2.25 2.25 0 1 0 -4.5 0M506.7 359.2a2.25 2.25 0 1 0 4.5 0a2.25 2.25 0 1 0 -4.5 0M513.9 347.8a2.25 2.25 0 1 0 4.5 0a2.25 2.25 0 1 0 -4.5 0M514.0 368.7a2.25 2.25 0 1 0 4.5 0a2.25 2.25 0 1 0 -4.5 0M508.4 356.2a2.25 2.25 0 1 0 4.5 0a2.25 2.25 0 1 0 -4.5 0M514.1 351.8a2.25 2.25 0 1 0 4.5 0a2.25 2.25 0 1 0 -4.5 0M509.9 370.6a2.25 2.25 0 1 0 4.5 0a2.25 2.25 0 1 0 -4.5 0M505.9 353.9a2.25 2.25 0 1 0 4.5 0a2.25 2.25 0 1 0 -4.5 0M514.4 386.9a2.25 2.25 0 1 0 4.5 0a2.25 2.25 0 1 0 -4.5 0M511.7 393.4a2.25 2.25 0 1 0 4.5 0a2.25 2.25 0 1 0 -4.5 0M504.8 381.8a2.25 2.25 0 1 0 4.5 0a2.25 2.25 0 1 0 -4.5 0M511.9 354.1a2.25 2.25 0 1 0 4.5 0a2.25 2.25 0 1 0 -4.5 0M508.7 397.5a2.25 2.25 0 1 0 4.5 0a2.25 2.25 0 1 0 -4.5 0M507.3 385.2a2.25 2.25 0 1 0 4.5 0a2.25 2.25 0 1 0 -4.5 0M505.5 379.7a2.25 2.25 0 1 0 4.5 0a2.25 2.25 0 1 0 -4.5 0M506.7 370.5a2.25 2.25 0 1 0 4.5 0a2.25 2.25 0 1 0 -4.5 0M507.8 391.5a2.25 2.25 0 1 0 4.5 0a2.25 2.25 0 1 0 -4.5 0M511.8 370.2a2.25 2.25 0 1 0 4.5 0a2.25 2.25 0 1 0 -4.5 0M511.2 365.8a2.25 2.25 0 1 0 4.5 0a2.25 2.25 0 1 0 -4.5 0M512.4 355.9a2.25 2.25 0 1 0 4.5 0a2.25 2.25 0 1 0 -4.5 0M509.6 375.0a2.25 2.25 0 1 0 4.5 0a2.25 2.25 0 1 0 -4.5 0M507.9 343.7a2.25 2.25 0 1 0 4.5 0a2.25 2.25 0 1 0 -4.5 0M505.6 378.1a2.25 2.25 0 1 0 4.5 0a2.25 2.25 0 1 0 -4.5 0M506.0 385.0a2.25 2.25 0 1 0 4.5 0a2.25 2.25 0 1 0 -4.5 0M509.2 396.3a2.25 2.25 0 1 0 4.5 0a2.25 2.25 0 1 0 -4.5 0M512.9 383.2a2.25 2.25 0 1 0 4.5 0a2.25 2.25 0 1 0 -4.5 0M507.8 343.5a2.25 2.25 0 1 0 4.5 0a2.25 2.25 0 1 0 -4.5 0M509.8 384.2a2.25 2.25 0 1 0 4.5 0a2.25 2.25 0 1 0 -4.5 0M513.7 352.8a2.25 2.25 0 1 0 4.5 0a2.25 2.25 0 1 0 -4.5 0M505.5 397.9a2.25 2.25 0 1 0 4.5 0a2.25 2.25 0 1 0 -4.5 0M511.7 369.1a2.25 2.25 0 1 0 4.5 0a2.25 2.25 0 1 0 -4.5 0M511.7 349.7a2.25 2.25 0 1 0 4.5 0a2.25 2.25 0 1 0 -4.5 0M509.6 379.8a2.25 2.25 0 1 0 4.5 0a2.25 2.25 0 1 0 -4.5 0M510.3 350.3a2.25 2.25 0 1 0 4.5 0a2.25 2.25 0 1 0 -4.5 0M505.2 377.2a2.25 2.25 0 1 0 4.5 0a2.25 2.25 0 1 0 -4.5 0M513.3 349.0a2.25 2.25 0 1 0 4.5 0a2.25 2.25 0 1 0 -4.5 0M503.8 345.8a2.25 2.25 0 1 0 4.5 0a2.25 2.25 0 1 0 -4.5 0M512.2 363.7a2.25 2.25 0 1 0 4.5 0a2.25 2.25 0 1 0 -4.5 0M508.7 398.7a2.25 2.25 0 1 0 4.5 0a2.25 2.25 0 1 0 -4.5 0M510.4 356.3a2.25 2.25 0 1 0 4.5 0a2.25 2.25 0 1 0 -4.5 0M511.3 341.1a2.25 2.25 0 1 0 4.5 0a2.25 2.25 0 1 0 -4.5 0M506.8 381.5a2.25 2.25 0 1 0 4.5 0a2.25 2.25 0 1 0 -4.5 0M505.6 342.9a2.25 2.25 0 1 0 4.5 0a2.25 2.25 0 1 0 -4.5 0M509.3 360.0a2.25 2.25 0 1 0 4.5 0a2.25 2.25 0 1 0 -4.5 0M514.2 346.9a2.25 2.25 0 1 0 4.5 0a2.25 2.25 0 1 0 -4.5 0M512.4 363.5a2.25 2.25 0 1 0 4.5 0a2.25 2.25 0 1 0 -4.5 0M512.0 338.7a2.25 2.25 0 1 0 4.5 0a2.25 2.25 0 1 0 -4.5 0M510.8 338.0a2.25 2.25 0 1 0 4.5 0a2.25 2.25 0 1 0 -4.5 0M506.8 338.7a2.25 2.25 0 1 0 4.5 0a2.25 2.25 0 1 0 -4.5 0M512.0 338.1a2.25 2.25 0 1 0 4.5 0a2.25 2.25 0 1 0 -4.5 0M506.8 338.5a2.25 2.25 0 1 0 4.5 0a2.25 2.25 0 1 0 -4.5 0M505.6 337.9a2.25 2.25 0 1 0 4.5 0a2.25 2.25 0 1 0 -4.5 0M509.9 339.3a2.25 2.25 0 1 0 4.5 0a2.25 2.25 0 1 0 -4.5 0M510.1 337.7a2.25 2.25 0 1 0 4.5 0a2.25 2.25 0 1 0 -4.5 0M505.0 336.2a2.25 2.25 0 1 0 4.5 0a2.25 2.25 0 1 0 -4.5 0M507.8 337.2a2.25 2.25 0 1 0 4.5 0a2.25 2.25 0 1 0 -4.5 0M509.9 337.6a2.25 2.25 0 1 0 4.5 0a2.25 2.25 0 1 0 -4.5 0M511.6 339.6a2.25 2.25 0 1 0 4.5 0a2.25 2.25 0 1 0 -4.5 0M510.7 400.9a2.25 2.25 0 1 0 4.5 0a2.25 2.25 0 1 0 -4.5 0M509.4 399.7a2.25 2.25 0 1 0 4.5 0a2.25 2.25 0 1 0 -4.5 0M507.5 398.3a2.25 2.25 0 1 0 4.5 0a2.25 2.25 0 1 0 -4.5 0M511.9 400.0a2.25 2.25 0 1 0 4.5 0a2.25 2.25 0 1 0 -4.5 0M505.6 401.7a2.25 2.25 0 1 0 4.5 0a2.25 2.25 0 1 0 -4.5 0M510.0 400.5a2.25 2.25 0 1 0 4.5 0a2.25 2.25 0 1 0 -4.5 0M508.7 398.5a2.25 2.25 0 1 0 4.5 0a2.25 2.25 0 1 0 -4.5 0M513.7 398.7a2.25 2.25 0 1 0 4.5 0a2.25 2.25 0 1 0 -4.5 0M508.0 402.0a2.25 2.25 0 1 0 4.5 0a2.25 2.25 0 1 0 -4.5 0M505.8 400.0a2.25 2.25 0 1 0 4.5 0a2.25 2.25 0 1 0 -4.5 0M509.1 399.0a2.25 2.25 0 1 0 4.5 0a2.25 2.25 0 1 0 -4.5 0M513.1 399.7a2.25 2.25 0 1 0 4.5 0a2.25 2.25 0 1 0 -4.5 0M513.5 413.4a2.25 2.25 0 1 0 4.5 0a2.25 2.25 0 1 0 -4.5 0M513.6 415.0a2.25 2.25 0 1 0 4.5 0a2.25 2.25 0 1 0 -4.5 0M513.0 413.9a2.25 2.25 0 1 0 4.5 0a2.25 2.25 0 1 0 -4.5 0M513.8 423.5a2.25 2.25 0 1 0 4.5 0a2.25 2.25 0 1 0 -4.5 0M514.4 407.8a2.25 2.25 0 1 0 4.5 0a2.25 2.25 0 1 0 -4.5 0M514.3 426.0a2.25 2.25 0 1 0 4.5 0a2.25 2.25 0 1 0 -4.5 0M514.0 431.4a2.25 2.25 0 1 0 4.5 0a2.25 2.25 0 1 0 -4.5 0M512.8 425.3a2.25 2.25 0 1 0 4.5 0a2.25 2.25 0 1 0 -4.5 0M514.3 405.7a2.25 2.25 0 1 0 4.5 0a2.25 2.25 0 1 0 -4.5 0M513.7 430.4a2.25 2.25 0 1 0 4.5 0a2.25 2.25 0 1 0 -4.5 0M513.1 427.7a2.25 2.25 0 1 0 4.5 0a2.25 2.25 0 1 0 -4.5 0M514.4 415.1a2.25 2.25 0 1 0 4.5 0a2.25 2.25 0 1 0 -4.5 0M512.8 408.5a2.25 2.25 0 1 0 4.5 0a2.25 2.25 0 1 0 -4.5 0M514.2 414.7a2.25 2.25 0 1 0 4.5 0a2.25 2.25 0 1 0 -4.5 0M513.2 415.3a2.25 2.25 0 1 0 4.5 0a2.25 2.25 0 1 0 -4.5 0M514.4 409.6a2.25 2.25 0 1 0 4.5 0a2.25 2.25 0 1 0 -4.5 0M512.6 430.5a2.25 2.25 0 1 0 4.5 0a2.25 2.25 0 1 0 -4.5 0M513.2 413.6a2.25 2.25 0 1 0 4.5 0a2.25 2.25 0 1 0 -4.5 0M514.5 410.5a2.25 2.25 0 1 0 4.5 0a2.25 2.25 0 1 0 -4.5 0M512.7 428.6a2.25 2.25 0 1 0 4.5 0a2.25 2.25 0 1 0 -4.5 0M513.0 408.6a2.25 2.25 0 1 0 4.5 0a2.25 2.25 0 1 0 -4.5 0M514.4 408.9a2.25 2.25 0 1 0 4.5 0a2.25 2.25 0 1 0 -4.5 0M514.4 412.0a2.25 2.25 0 1 0 4.5 0a2.25 2.25 0 1 0 -4.5 0M513.2 408.5a2.25 2.25 0 1 0 4.5 0a2.25 2.25 0 1 0 -4.5 0M513.6 418.8a2.25 2.25 0 1 0 4.5 0a2.25 2.25 0 1 0 -4.5 0M574.5 337.7a2.25 2.25 0 1 0 4.5 0a2.25 2.25 0 1 0 -4.5 0M817.0 77.2a2.25 2.25 0 1 0 4.5 0a2.25 2.25 0 1 0 -4.5 0M817.0 132.2a2.25 2.25 0 1 0 4.5 0a2.25 2.25 0 1 0 -4.5 0M817.0 254.1a2.25 2.25 0 1 0 4.5 0a2.25 2.25 0 1 0 -4.5 0M813.4 317.5a2.25 2.25 0 1 0 4.5 0a2.25 2.25 0 1 0 -4.5 0M817.0 329.2a2.25 2.25 0 1 0 4.5 0a2.25 2.25 0 1 0 -4.5 0M817.0 337.3a2.25 2.25 0 1 0 4.5 0a2.25 2.25 0 1 0 -4.5 0" fill="#ff0000"/>
<path d="M76.00 302.70L944.00 448.48" stroke="#0000ff" stroke-width="1.7" fill="none"/>
<path d="M76.00 482.68L944.00 244.55" stroke="#ff0000" stroke-width="1.7" fill="none"/>
<path d="M500.1 372.9H521.7M510.9 362.3V383.5" stroke="#000" stroke-width="2" fill="none"/>
<path d="M76.00 29.80H944.00V715.40H76.00ZM115.20 715.40v-8.7M115.20 29.80v8.7M194.14 715.40v-8.7M194.14 29.80v8.7M273.08 715.40v-8.7M273.08 29.80v8.7M352.02 715.40v-8.7M352.02 29.80v8.7M430.96 715.40v-8.7M430.96 29.80v8.7M509.90 715.40v-8.7M509.90 29.80v8.7M588.84 715.40v-8.7M588.84 29.80v8.7M667.78 715.40v-8.7M667.78 29.80v8.7M746.72 715.40v-8.7M746.72 29.80v8.7M825.66 715.40v-8.7M825.66 29.80v8.7M904.60 715.40v-8.7M904.60 29.80v8.7M76.00 715.40h8.7M944.00 715.40h-8.7M76.00 646.84h8.7M944.00 646.84h-8.7M76.00 578.28h8.7M944.00 578.28h-8.7M76.00 509.72h8.7M944.00 509.72h-8.7M76.00 441.16h8.7M944.00 441.16h-8.7M76.00 372.60h8.7M944.00 372.60h-8.7M76.00 304.04h8.7M944.00 304.04h-8.7M76.00 235.48h8.7M944.00 235.48h-8.7M76.00 166.92h8.7M944.00 166.92h-8.7M76.00 98.36h8.7M944.00 98.36h-8.7M76.00 29.80h8.7M944.00 29.80h-8.7" stroke="#262626" stroke-width="1.3" fill="none"/>
<path d="M944 29.15V716.05" stroke="#3a3a3a" stroke-width="2" fill="none"/>
<rect x="96.2" y="49.6" width="133.9" height="55.6" fill="#fff" fill-opacity="0.55" stroke="#262626" stroke-width="1.3"/>
<circle cx="134" cy="65.4" r="2.25" fill="#0000ff"/><circle cx="134" cy="89.7" r="2.25" fill="#ff0000"/>
<g font-family="Liberation Sans, sans-serif"><text x="169.91" y="71.30" font-size="18.2" font-weight="normal" fill="#000">Dive</text><text x="169.58" y="95.50" font-size="18.2" font-weight="normal" fill="#000">Climb</text><text x="112.70" y="743.9" font-size="20" fill="#262626" text-anchor="middle">-50</text><text x="191.64" y="743.9" font-size="20" fill="#262626" text-anchor="middle">-40</text><text x="270.58" y="743.9" font-size="20" fill="#262626" text-anchor="middle">-30</text><text x="349.52" y="743.9" font-size="20" fill="#262626" text-anchor="middle">-20</text><text x="428.46" y="743.9" font-size="20" fill="#262626" text-anchor="middle">-10</text><text x="508.30" y="743.9" font-size="20" fill="#262626" text-anchor="middle">0</text><text x="586.74" y="743.9" font-size="20" fill="#262626" text-anchor="middle">10</text><text x="665.68" y="743.9" font-size="20" fill="#262626" text-anchor="middle">20</text><text x="744.62" y="743.9" font-size="20" fill="#262626" text-anchor="middle">30</text><text x="823.56" y="743.9" font-size="20" fill="#262626" text-anchor="middle">40</text><text x="902.50" y="743.9" font-size="20" fill="#262626" text-anchor="middle">50</text><text x="62.50" y="722.70" font-size="20" fill="#262626" text-anchor="end">-2.5</text><text x="65.20" y="654.14" font-size="20" fill="#262626" text-anchor="end">-2</text><text x="62.50" y="585.58" font-size="20" fill="#262626" text-anchor="end">-1.5</text><text x="65.20" y="517.02" font-size="20" fill="#262626" text-anchor="end">-1</text><text x="62.50" y="448.46" font-size="20" fill="#262626" text-anchor="end">-0.5</text><text x="65.20" y="379.90" font-size="20" fill="#262626" text-anchor="end">0</text><text x="63.90" y="311.34" font-size="20" fill="#262626" text-anchor="end">0.5</text><text x="65.20" y="242.78" font-size="20" fill="#262626" text-anchor="end">1</text><text x="63.90" y="174.22" font-size="20" fill="#262626" text-anchor="end">1.5</text><text x="65.20" y="105.66" font-size="20" fill="#262626" text-anchor="end">2</text><text x="63.90" y="37.10" font-size="20" fill="#262626" text-anchor="end">2.5</text><text x="148.52" y="17.80" font-size="24.03" font-weight="bold" fill="#000">p5540052: SG554 - Convex22 05-Feb-2022 09:23:01Z</text><text x="426.20" y="773.70" font-size="22" font-weight="normal" fill="#262626">Roll Control [</text><text x="571.69" y="773.70" font-size="22" font-weight="normal" fill="#262626"><tspan dy="2">°</tspan><tspan dy="-2">]</tspan></text><g transform="translate(16.1,0) rotate(-90)"><text x="-563.49" y="0" font-size="22" fill="#262626">Turn rate [</text><text x="-442.91" y="0" font-size="22" fill="#262626"><tspan dy="2">°</tspan><tspan dy="-2">/s] (starboard positive)</tspan></text></g><text x="76.12" y="791.20" font-size="20" font-weight="normal" fill="#000">05-Feb-2022 19:59:09 local</text><text x="423.28" y="69.80" font-size="20" font-weight="normal" fill="#000">C</text><text x="437.93" y="60.00" font-size="16" font-weight="normal" fill="#000">dive</text><text x="437.29" y="79.00" font-size="16" font-weight="normal" fill="#000">ROLL</text><text x="485.22" y="69.80" font-size="20" font-weight="normal" fill="#000">=1450</text><text x="683.78" y="69.80" font-size="20" font-weight="normal" fill="#000">C</text><text x="698.62" y="60.00" font-size="16" font-weight="normal" fill="#000">climb</text><text x="697.99" y="79.00" font-size="16" font-weight="normal" fill="#000">ROLL</text><text x="747.82" y="69.80" font-size="20" font-weight="normal" fill="#000">=1450</text><text x="423.75" y="137.40" font-size="20" font-weight="normal" fill="#000">Implied C</text><text x="519.93" y="128.30" font-size="16" font-weight="normal" fill="#000">dive</text><text x="519.29" y="148.00" font-size="16" font-weight="normal" fill="#000">ROLL</text><text x="567.22" y="137.40" font-size="20" font-weight="normal" fill="#000">=1370.1782</text><text x="683.75" y="137.40" font-size="20" font-weight="normal" fill="#000">Implied C</text><text x="780.02" y="128.30" font-size="16" font-weight="normal" fill="#000">climb</text><text x="779.39" y="148.00" font-size="16" font-weight="normal" fill="#000">ROLL</text><text x="829.72" y="137.40" font-size="20" font-weight="normal" fill="#000">=1303.1777</text><text x="162.36" y="209.80" font-size="20" font-weight="normal" fill="#000">Assumed roll control gain =35.3732 [counts/</text><text x="614.01" y="209.80" font-size="20" font-weight="normal" fill="#000"><tspan dy="2">°</tspan><tspan dy="-2"> to stbd]</tspan></text><text x="161.46" y="628.20" font-size="20" font-weight="normal" fill="#000">Dive Turn Rate [</text><text x="329.61" y="628.20" font-size="20" font-weight="normal" fill="#000"><tspan dy="2">°</tspan><tspan dy="-2">/s] =0.37437</tspan></text><text x="471.61" y="628.20" font-size="20" font-weight="normal" fill="#000"><tspan dy="2">°</tspan><tspan dy="-2">/s </tspan><tspan dy="1.5">+</tspan><tspan dy="-1.5"> Roll Control [counts] *-0.00027323</tspan></text><text x="161.46" y="656.20" font-size="20" font-weight="normal" fill="#000">Dive Turn Rate [</text><text x="329.61" y="656.20" font-size="20" font-weight="normal" fill="#000"><tspan dy="2">°</tspan><tspan dy="-2">/s] =-0.021809</tspan></text><text x="491.41" y="656.20" font-size="20" font-weight="normal" fill="#000"><tspan dy="2">°</tspan><tspan dy="-2">/s </tspan><tspan dy="1.5">+</tspan><tspan dy="-1.5"> Roll Control [</tspan></text><text x="680.11" y="656.20" font-size="20" font-weight="normal" fill="#000"><tspan dy="2">°</tspan><tspan dy="-2">]-0.0096649</tspan></text><text x="162.08" y="681.40" font-size="20" font-weight="normal" fill="#000">Climb Turn Rate [</text><text x="341.41" y="681.40" font-size="20" font-weight="normal" fill="#000"><tspan dy="2">°</tspan><tspan dy="-2">/s] =-0.58164</tspan></text><text x="489.21" y="681.40" font-size="20" font-weight="normal" fill="#000"><tspan dy="2">°</tspan><tspan dy="-2">/s </tspan><tspan dy="1.5">+</tspan><tspan dy="-1.5"> Roll Control [counts] *0.00044632</tspan></text><text x="162.08" y="709.50" font-size="20" font-weight="normal" fill="#000">Climb Turn Rate [</text><text x="341.41" y="709.50" font-size="20" font-weight="normal" fill="#000"><tspan dy="2">°</tspan><tspan dy="-2">/s] =0.06553</tspan></text><text x="483.11" y="709.50" font-size="20" font-weight="normal" fill="#000"><tspan dy="2">°</tspan><tspan dy="-2">/s </tspan><tspan dy="1.5">+</tspan><tspan dy="-1.5"> Roll Control [</tspan></text><text x="671.51" y="709.50" font-size="20" font-weight="normal" fill="#000"><tspan dy="2">°</tspan><tspan dy="-2">]0.015788</tspan></text></g>
</svg></body></html>
